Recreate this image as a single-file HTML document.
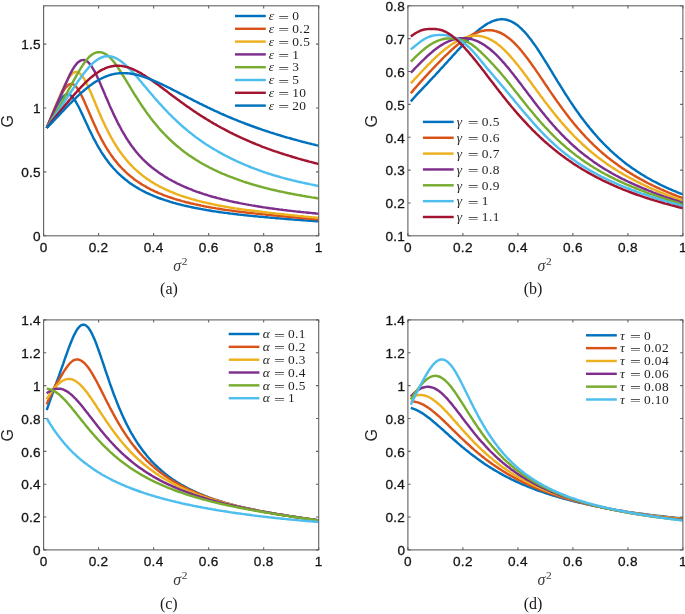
<!DOCTYPE html>
<html lang="en">
<head>
<meta charset="utf-8">
<title>G versus noise intensity</title>
<style>
html,body{margin:0;padding:0;background:#ffffff;}
body{width:685px;height:614px;overflow:hidden;}
svg{display:block;will-change:transform;}
</style>
</head>
<body>
<svg width="685" height="614" viewBox="0 0 685 614" role="img" aria-label="G versus sigma squared, four panels">
<rect x="0" y="0" width="685" height="614" fill="#ffffff"/>
<defs>
<clipPath id="clip-a"><rect x="43.6" y="5.8" width="275.1" height="230"/></clipPath>
<clipPath id="clip-b"><rect x="407.9" y="5.8" width="275" height="230"/></clipPath>
<clipPath id="clip-c"><rect x="43.6" y="319.9" width="275.1" height="230"/></clipPath>
<clipPath id="clip-d"><rect x="407.9" y="319.9" width="275" height="230"/></clipPath>
</defs>
<g class="panel" id="panel-a">
<g clip-path="url(#clip-a)" fill="none" stroke-width="2.45" stroke-linejoin="round" stroke-linecap="butt">
<path d="M46.7 127.9 L48.1 124.8 L49.5 121.7 L50.8 118.6 L52.2 115.5 L53.6 112.5 L55.0 109.6 L56.3 106.9 L57.7 104.3 L59.1 101.9 L60.4 99.8 L61.8 98.0 L63.2 96.5 L64.5 95.4 L65.9 94.7 L67.3 94.4 L68.6 94.6 L70.0 95.1 L71.4 96.1 L72.7 97.5 L74.1 99.2 L75.5 101.2 L76.8 103.5 L78.2 106.0 L79.6 108.7 L80.9 111.5 L82.3 114.4 L83.7 117.4 L85.0 120.3 L86.4 123.3 L87.8 126.3 L89.1 129.2 L90.5 132.0 L91.9 134.8 L93.2 137.6 L94.6 140.2 L96.0 142.7 L97.3 145.2 L98.7 147.6 L100.1 149.9 L101.4 152.1 L102.8 154.2 L104.2 156.3 L105.5 158.2 L106.9 160.1 L108.3 162.0 L109.6 163.7 L111.0 165.4 L112.4 167.0 L113.7 168.5 L115.1 170.0 L116.5 171.5 L117.8 172.8 L119.2 174.2 L120.6 175.4 L121.9 176.7 L123.3 177.8 L124.7 179.0 L126.0 180.1 L127.4 181.1 L128.8 182.2 L130.1 183.2 L131.5 184.1 L132.9 185.0 L134.2 185.9 L135.6 186.8 L137.0 187.6 L138.3 188.4 L139.7 189.2 L141.1 190.0 L142.4 190.7 L143.8 191.4 L145.2 192.1 L146.5 192.8 L147.9 193.4 L149.3 194.0 L150.6 194.6 L152.0 195.2 L153.4 195.8 L154.7 196.4 L156.1 196.9 L157.5 197.5 L158.8 198.0 L160.2 198.5 L161.6 199.0 L163.0 199.4 L164.3 199.9 L165.7 200.4 L167.1 200.8 L168.4 201.2 L169.8 201.7 L171.2 202.1 L172.5 202.5 L173.9 202.9 L175.3 203.2 L176.6 203.6 L178.0 204.0 L179.4 204.3 L180.7 204.7 L182.1 205.0 L183.5 205.4 L184.8 205.7 L186.2 206.0 L187.6 206.3 L188.9 206.6 L190.3 206.9 L191.7 207.2 L193.0 207.5 L194.4 207.8 L195.8 208.0 L197.1 208.3 L198.5 208.6 L199.9 208.8 L201.2 209.1 L202.6 209.3 L204.0 209.6 L205.3 209.8 L206.7 210.1 L208.1 210.3 L209.4 210.5 L210.8 210.7 L212.2 211.0 L213.5 211.2 L214.9 211.4 L216.3 211.6 L217.6 211.8 L219.0 212.0 L220.4 212.2 L221.7 212.4 L223.1 212.6 L224.5 212.8 L225.8 212.9 L227.2 213.1 L228.6 213.3 L229.9 213.5 L231.3 213.6 L232.7 213.8 L234.0 214.0 L235.4 214.1 L236.8 214.3 L238.1 214.5 L239.5 214.6 L240.9 214.8 L242.2 214.9 L243.6 215.1 L245.0 215.2 L246.3 215.4 L247.7 215.5 L249.1 215.6 L250.4 215.8 L251.8 215.9 L253.2 216.1 L254.5 216.2 L255.9 216.3 L257.3 216.4 L258.6 216.6 L260.0 216.7 L261.4 216.8 L262.7 216.9 L264.1 217.1 L265.5 217.2 L266.9 217.3 L268.2 217.4 L269.6 217.6 L271.0 217.7 L272.3 217.8 L273.7 217.9 L275.1 218.0 L276.4 218.2 L277.8 218.3 L279.2 218.4 L280.5 218.5 L281.9 218.6 L283.3 218.7 L284.6 218.8 L286.0 219.0 L287.4 219.1 L288.7 219.2 L290.1 219.3 L291.5 219.4 L292.8 219.5 L294.2 219.6 L295.6 219.7 L296.9 219.8 L298.3 219.9 L299.7 220.0 L301.0 220.1 L302.4 220.2 L303.8 220.3 L305.1 220.4 L306.5 220.5 L307.9 220.6 L309.2 220.7 L310.6 220.8 L312.0 220.9 L313.3 221.0 L314.7 221.1 L316.1 221.2 L317.4 221.3 L318.8 221.4" stroke="#0072BD"/>
<path d="M46.7 127.9 L48.1 124.8 L49.5 121.6 L50.8 118.5 L52.2 115.2 L53.6 112.0 L55.0 108.7 L56.3 105.5 L57.7 102.4 L59.1 99.4 L60.4 96.5 L61.8 93.8 L63.2 91.4 L64.5 89.2 L65.9 87.3 L67.3 85.8 L68.6 84.7 L70.0 84.1 L71.4 83.9 L72.7 84.2 L74.1 84.9 L75.5 86.1 L76.8 87.6 L78.2 89.6 L79.6 91.8 L80.9 94.3 L82.3 97.1 L83.7 100.0 L85.0 103.1 L86.4 106.2 L87.8 109.4 L89.1 112.6 L90.5 115.8 L91.9 118.9 L93.2 122.0 L94.6 125.1 L96.0 128.1 L97.3 131.0 L98.7 133.8 L100.1 136.5 L101.4 139.1 L102.8 141.6 L104.2 144.1 L105.5 146.4 L106.9 148.7 L108.3 150.8 L109.6 152.9 L111.0 154.9 L112.4 156.8 L113.7 158.7 L115.1 160.4 L116.5 162.1 L117.8 163.8 L119.2 165.3 L120.6 166.8 L121.9 168.3 L123.3 169.7 L124.7 171.0 L126.0 172.3 L127.4 173.6 L128.8 174.8 L130.1 175.9 L131.5 177.1 L132.9 178.1 L134.2 179.2 L135.6 180.2 L137.0 181.1 L138.3 182.1 L139.7 183.0 L141.1 183.9 L142.4 184.7 L143.8 185.5 L145.2 186.3 L146.5 187.1 L147.9 187.9 L149.3 188.6 L150.6 189.3 L152.0 190.0 L153.4 190.6 L154.7 191.3 L156.1 191.9 L157.5 192.5 L158.8 193.1 L160.2 193.7 L161.6 194.2 L163.0 194.8 L164.3 195.3 L165.7 195.8 L167.1 196.3 L168.4 196.8 L169.8 197.3 L171.2 197.7 L172.5 198.2 L173.9 198.6 L175.3 199.1 L176.6 199.5 L178.0 199.9 L179.4 200.3 L180.7 200.7 L182.1 201.1 L183.5 201.4 L184.8 201.8 L186.2 202.2 L187.6 202.5 L188.9 202.8 L190.3 203.2 L191.7 203.5 L193.0 203.8 L194.4 204.1 L195.8 204.4 L197.1 204.7 L198.5 205.0 L199.9 205.3 L201.2 205.6 L202.6 205.9 L204.0 206.2 L205.3 206.4 L206.7 206.7 L208.1 206.9 L209.4 207.2 L210.8 207.4 L212.2 207.7 L213.5 207.9 L214.9 208.1 L216.3 208.4 L217.6 208.6 L219.0 208.8 L220.4 209.0 L221.7 209.2 L223.1 209.5 L224.5 209.7 L225.8 209.9 L227.2 210.1 L228.6 210.3 L229.9 210.4 L231.3 210.6 L232.7 210.8 L234.0 211.0 L235.4 211.2 L236.8 211.4 L238.1 211.5 L239.5 211.7 L240.9 211.9 L242.2 212.0 L243.6 212.2 L245.0 212.4 L246.3 212.5 L247.7 212.7 L249.1 212.8 L250.4 213.0 L251.8 213.1 L253.2 213.3 L254.5 213.4 L255.9 213.6 L257.3 213.7 L258.6 213.8 L260.0 214.0 L261.4 214.1 L262.7 214.3 L264.1 214.4 L265.5 214.5 L266.9 214.7 L268.2 214.8 L269.6 214.9 L271.0 215.1 L272.3 215.2 L273.7 215.4 L275.1 215.5 L276.4 215.6 L277.8 215.8 L279.2 215.9 L280.5 216.0 L281.9 216.2 L283.3 216.3 L284.6 216.4 L286.0 216.6 L287.4 216.7 L288.7 216.8 L290.1 217.0 L291.5 217.1 L292.8 217.2 L294.2 217.3 L295.6 217.5 L296.9 217.6 L298.3 217.7 L299.7 217.9 L301.0 218.0 L302.4 218.1 L303.8 218.2 L305.1 218.3 L306.5 218.5 L307.9 218.6 L309.2 218.7 L310.6 218.8 L312.0 218.9 L313.3 219.1 L314.7 219.2 L316.1 219.3 L317.4 219.4 L318.8 219.5" stroke="#D95319"/>
<path d="M46.7 127.9 L48.1 124.4 L49.5 121.0 L50.8 117.5 L52.2 114.1 L53.6 110.6 L55.0 107.3 L56.3 104.1 L57.7 100.9 L59.1 97.7 L60.4 94.6 L61.8 91.5 L63.2 88.5 L64.5 85.6 L65.9 82.9 L67.3 80.4 L68.6 78.2 L70.0 76.2 L71.4 74.6 L72.7 73.3 L74.1 72.5 L75.5 72.0 L76.8 72.0 L78.2 72.4 L79.6 73.3 L80.9 74.6 L82.3 76.2 L83.7 78.2 L85.0 80.5 L86.4 83.0 L87.8 85.8 L89.1 88.8 L90.5 91.8 L91.9 95.0 L93.2 98.3 L94.6 101.6 L96.0 104.9 L97.3 108.1 L98.7 111.4 L100.1 114.5 L101.4 117.7 L102.8 120.7 L104.2 123.7 L105.5 126.5 L106.9 129.3 L108.3 132.0 L109.6 134.6 L111.0 137.2 L112.4 139.6 L113.7 141.9 L115.1 144.2 L116.5 146.4 L117.8 148.5 L119.2 150.5 L120.6 152.4 L121.9 154.3 L123.3 156.1 L124.7 157.8 L126.0 159.5 L127.4 161.1 L128.8 162.7 L130.1 164.1 L131.5 165.6 L132.9 167.0 L134.2 168.3 L135.6 169.6 L137.0 170.8 L138.3 172.0 L139.7 173.2 L141.1 174.3 L142.4 175.4 L143.8 176.5 L145.2 177.5 L146.5 178.5 L147.9 179.4 L149.3 180.3 L150.6 181.2 L152.0 182.1 L153.4 182.9 L154.7 183.8 L156.1 184.6 L157.5 185.3 L158.8 186.1 L160.2 186.8 L161.6 187.5 L163.0 188.2 L164.3 188.8 L165.7 189.5 L167.1 190.1 L168.4 190.7 L169.8 191.3 L171.2 191.9 L172.5 192.5 L173.9 193.0 L175.3 193.5 L176.6 194.1 L178.0 194.6 L179.4 195.1 L180.7 195.6 L182.1 196.0 L183.5 196.5 L184.8 196.9 L186.2 197.4 L187.6 197.8 L188.9 198.2 L190.3 198.6 L191.7 199.1 L193.0 199.4 L194.4 199.8 L195.8 200.2 L197.1 200.6 L198.5 200.9 L199.9 201.3 L201.2 201.6 L202.6 202.0 L204.0 202.3 L205.3 202.6 L206.7 202.9 L208.1 203.2 L209.4 203.5 L210.8 203.8 L212.2 204.1 L213.5 204.4 L214.9 204.7 L216.3 205.0 L217.6 205.3 L219.0 205.5 L220.4 205.8 L221.7 206.0 L223.1 206.3 L224.5 206.5 L225.8 206.8 L227.2 207.0 L228.6 207.2 L229.9 207.5 L231.3 207.7 L232.7 207.9 L234.0 208.1 L235.4 208.4 L236.8 208.6 L238.1 208.8 L239.5 209.0 L240.9 209.2 L242.2 209.4 L243.6 209.6 L245.0 209.8 L246.3 209.9 L247.7 210.1 L249.1 210.3 L250.4 210.5 L251.8 210.7 L253.2 210.8 L254.5 211.0 L255.9 211.2 L257.3 211.3 L258.6 211.5 L260.0 211.7 L261.4 211.8 L262.7 212.0 L264.1 212.1 L265.5 212.3 L266.9 212.5 L268.2 212.6 L269.6 212.8 L271.0 212.9 L272.3 213.1 L273.7 213.2 L275.1 213.4 L276.4 213.6 L277.8 213.7 L279.2 213.9 L280.5 214.0 L281.9 214.2 L283.3 214.3 L284.6 214.5 L286.0 214.6 L287.4 214.8 L288.7 214.9 L290.1 215.1 L291.5 215.2 L292.8 215.4 L294.2 215.5 L295.6 215.6 L296.9 215.8 L298.3 215.9 L299.7 216.1 L301.0 216.2 L302.4 216.3 L303.8 216.5 L305.1 216.6 L306.5 216.8 L307.9 216.9 L309.2 217.0 L310.6 217.1 L312.0 217.3 L313.3 217.4 L314.7 217.5 L316.1 217.7 L317.4 217.8 L318.8 217.9" stroke="#EDB120"/>
<path d="M46.7 127.9 L48.1 124.6 L49.5 121.3 L50.8 118.1 L52.2 114.8 L53.6 111.5 L55.0 108.3 L56.3 105.3 L57.7 102.2 L59.1 99.1 L60.4 96.0 L61.8 92.8 L63.2 89.6 L64.5 86.4 L65.9 83.3 L67.3 80.2 L68.6 77.2 L70.0 74.4 L71.4 71.8 L72.7 69.3 L74.1 67.1 L75.5 65.2 L76.8 63.5 L78.2 62.2 L79.6 61.2 L80.9 60.4 L82.3 60.1 L83.7 60.0 L85.0 60.3 L86.4 61.0 L87.8 61.9 L89.1 63.2 L90.5 64.9 L91.9 66.8 L93.2 69.0 L94.6 71.4 L96.0 74.1 L97.3 77.0 L98.7 80.0 L100.1 83.1 L101.4 86.3 L102.8 89.5 L104.2 92.7 L105.5 95.9 L106.9 99.1 L108.3 102.3 L109.6 105.4 L111.0 108.5 L112.4 111.5 L113.7 114.4 L115.1 117.3 L116.5 120.1 L117.8 122.8 L119.2 125.4 L120.6 128.0 L121.9 130.5 L123.3 132.9 L124.7 135.2 L126.0 137.5 L127.4 139.6 L128.8 141.7 L130.1 143.7 L131.5 145.7 L132.9 147.5 L134.2 149.3 L135.6 151.1 L137.0 152.7 L138.3 154.3 L139.7 155.9 L141.1 157.3 L142.4 158.8 L143.8 160.1 L145.2 161.5 L146.5 162.7 L147.9 164.0 L149.3 165.2 L150.6 166.3 L152.0 167.5 L153.4 168.5 L154.7 169.6 L156.1 170.6 L157.5 171.6 L158.8 172.6 L160.2 173.5 L161.6 174.4 L163.0 175.3 L164.3 176.2 L165.7 177.1 L167.1 177.9 L168.4 178.7 L169.8 179.5 L171.2 180.2 L172.5 181.0 L173.9 181.7 L175.3 182.4 L176.6 183.1 L178.0 183.8 L179.4 184.4 L180.7 185.1 L182.1 185.7 L183.5 186.3 L184.8 186.9 L186.2 187.5 L187.6 188.1 L188.9 188.7 L190.3 189.2 L191.7 189.7 L193.0 190.3 L194.4 190.8 L195.8 191.3 L197.1 191.8 L198.5 192.3 L199.9 192.7 L201.2 193.2 L202.6 193.6 L204.0 194.1 L205.3 194.5 L206.7 194.9 L208.1 195.4 L209.4 195.8 L210.8 196.2 L212.2 196.6 L213.5 197.0 L214.9 197.3 L216.3 197.7 L217.6 198.1 L219.0 198.4 L220.4 198.8 L221.7 199.1 L223.1 199.5 L224.5 199.8 L225.8 200.1 L227.2 200.4 L228.6 200.8 L229.9 201.1 L231.3 201.4 L232.7 201.7 L234.0 202.0 L235.4 202.3 L236.8 202.5 L238.1 202.8 L239.5 203.1 L240.9 203.4 L242.2 203.6 L243.6 203.9 L245.0 204.1 L246.3 204.4 L247.7 204.6 L249.1 204.9 L250.4 205.1 L251.8 205.4 L253.2 205.6 L254.5 205.8 L255.9 206.1 L257.3 206.3 L258.6 206.5 L260.0 206.7 L261.4 206.9 L262.7 207.2 L264.1 207.4 L265.5 207.6 L266.9 207.8 L268.2 208.0 L269.6 208.2 L271.0 208.4 L272.3 208.5 L273.7 208.7 L275.1 208.9 L276.4 209.1 L277.8 209.3 L279.2 209.5 L280.5 209.6 L281.9 209.8 L283.3 210.0 L284.6 210.1 L286.0 210.3 L287.4 210.5 L288.7 210.6 L290.1 210.8 L291.5 210.9 L292.8 211.1 L294.2 211.3 L295.6 211.4 L296.9 211.6 L298.3 211.7 L299.7 211.8 L301.0 212.0 L302.4 212.1 L303.8 212.3 L305.1 212.4 L306.5 212.5 L307.9 212.7 L309.2 212.8 L310.6 212.9 L312.0 213.1 L313.3 213.2 L314.7 213.3 L316.1 213.5 L317.4 213.6 L318.8 213.7" stroke="#7E2F8E"/>
<path d="M46.7 127.9 L48.1 125.6 L49.5 123.3 L50.8 121.0 L52.2 118.7 L53.6 116.4 L55.0 114.0 L56.3 111.7 L57.7 109.4 L59.1 107.1 L60.4 104.7 L61.8 102.3 L63.2 99.8 L64.5 97.4 L65.9 94.9 L67.3 92.4 L68.6 89.8 L70.0 87.3 L71.4 84.8 L72.7 82.3 L74.1 79.8 L75.5 77.3 L76.8 74.9 L78.2 72.6 L79.6 70.2 L80.9 68.0 L82.3 65.9 L83.7 63.8 L85.0 61.9 L86.4 60.1 L87.8 58.5 L89.1 57.0 L90.5 55.8 L91.9 54.7 L93.2 53.8 L94.6 53.1 L96.0 52.6 L97.3 52.3 L98.7 52.2 L100.1 52.2 L101.4 52.4 L102.8 52.8 L104.2 53.4 L105.5 54.1 L106.9 54.9 L108.3 56.0 L109.6 57.2 L111.0 58.6 L112.4 60.1 L113.7 61.8 L115.1 63.6 L116.5 65.5 L117.8 67.4 L119.2 69.5 L120.6 71.6 L121.9 73.8 L123.3 76.0 L124.7 78.2 L126.0 80.4 L127.4 82.7 L128.8 84.9 L130.1 87.2 L131.5 89.4 L132.9 91.6 L134.2 93.8 L135.6 96.0 L137.0 98.2 L138.3 100.3 L139.7 102.4 L141.1 104.5 L142.4 106.5 L143.8 108.5 L145.2 110.5 L146.5 112.4 L147.9 114.3 L149.3 116.1 L150.6 117.9 L152.0 119.7 L153.4 121.5 L154.7 123.1 L156.1 124.8 L157.5 126.4 L158.8 128.0 L160.2 129.6 L161.6 131.1 L163.0 132.6 L164.3 134.0 L165.7 135.4 L167.1 136.8 L168.4 138.2 L169.8 139.5 L171.2 140.8 L172.5 142.0 L173.9 143.3 L175.3 144.5 L176.6 145.7 L178.0 146.8 L179.4 147.9 L180.7 149.0 L182.1 150.1 L183.5 151.2 L184.8 152.2 L186.2 153.2 L187.6 154.2 L188.9 155.2 L190.3 156.1 L191.7 157.0 L193.0 157.9 L194.4 158.8 L195.8 159.7 L197.1 160.5 L198.5 161.4 L199.9 162.2 L201.2 163.0 L202.6 163.8 L204.0 164.5 L205.3 165.3 L206.7 166.0 L208.1 166.7 L209.4 167.5 L210.8 168.2 L212.2 168.8 L213.5 169.5 L214.9 170.2 L216.3 170.8 L217.6 171.4 L219.0 172.1 L220.4 172.7 L221.7 173.3 L223.1 173.9 L224.5 174.4 L225.8 175.0 L227.2 175.6 L228.6 176.1 L229.9 176.7 L231.3 177.2 L232.7 177.7 L234.0 178.2 L235.4 178.7 L236.8 179.2 L238.1 179.7 L239.5 180.2 L240.9 180.7 L242.2 181.1 L243.6 181.6 L245.0 182.0 L246.3 182.5 L247.7 182.9 L249.1 183.3 L250.4 183.8 L251.8 184.2 L253.2 184.6 L254.5 185.0 L255.9 185.4 L257.3 185.8 L258.6 186.2 L260.0 186.5 L261.4 186.9 L262.7 187.3 L264.1 187.6 L265.5 188.0 L266.9 188.3 L268.2 188.7 L269.6 189.0 L271.0 189.4 L272.3 189.7 L273.7 190.0 L275.1 190.3 L276.4 190.6 L277.8 191.0 L279.2 191.3 L280.5 191.6 L281.9 191.8 L283.3 192.1 L284.6 192.4 L286.0 192.7 L287.4 193.0 L288.7 193.2 L290.1 193.5 L291.5 193.8 L292.8 194.0 L294.2 194.3 L295.6 194.6 L296.9 194.8 L298.3 195.1 L299.7 195.3 L301.0 195.5 L302.4 195.8 L303.8 196.0 L305.1 196.2 L306.5 196.5 L307.9 196.7 L309.2 196.9 L310.6 197.1 L312.0 197.4 L313.3 197.6 L314.7 197.8 L316.1 198.0 L317.4 198.2 L318.8 198.4" stroke="#77AC30"/>
<path d="M46.7 127.9 L48.1 125.9 L49.5 123.9 L50.8 121.9 L52.2 119.9 L53.6 117.9 L55.0 115.9 L56.3 113.9 L57.7 111.9 L59.1 109.9 L60.4 107.9 L61.8 105.8 L63.2 103.7 L64.5 101.7 L65.9 99.6 L67.3 97.5 L68.6 95.4 L70.0 93.3 L71.4 91.3 L72.7 89.2 L74.1 87.1 L75.5 85.1 L76.8 83.1 L78.2 81.1 L79.6 79.2 L80.9 77.3 L82.3 75.4 L83.7 73.6 L85.0 71.9 L86.4 70.2 L87.8 68.6 L89.1 67.0 L90.5 65.6 L91.9 64.2 L93.2 62.9 L94.6 61.7 L96.0 60.7 L97.3 59.7 L98.7 58.8 L100.1 58.1 L101.4 57.5 L102.8 57.0 L104.2 56.6 L105.5 56.3 L106.9 56.2 L108.3 56.2 L109.6 56.3 L111.0 56.5 L112.4 56.8 L113.7 57.2 L115.1 57.8 L116.5 58.4 L117.8 59.2 L119.2 60.0 L120.6 61.0 L121.9 62.0 L123.3 63.1 L124.7 64.2 L126.0 65.5 L127.4 66.8 L128.8 68.1 L130.1 69.5 L131.5 70.9 L132.9 72.4 L134.2 73.9 L135.6 75.5 L137.0 77.0 L138.3 78.6 L139.7 80.2 L141.1 81.8 L142.4 83.4 L143.8 85.1 L145.2 86.7 L146.5 88.3 L147.9 90.0 L149.3 91.6 L150.6 93.2 L152.0 94.8 L153.4 96.4 L154.7 98.0 L156.1 99.6 L157.5 101.1 L158.8 102.7 L160.2 104.2 L161.6 105.7 L163.0 107.2 L164.3 108.7 L165.7 110.1 L167.1 111.5 L168.4 113.0 L169.8 114.4 L171.2 115.7 L172.5 117.1 L173.9 118.4 L175.3 119.7 L176.6 121.0 L178.0 122.3 L179.4 123.5 L180.7 124.8 L182.1 126.0 L183.5 127.2 L184.8 128.3 L186.2 129.5 L187.6 130.6 L188.9 131.7 L190.3 132.8 L191.7 133.9 L193.0 135.0 L194.4 136.0 L195.8 137.1 L197.1 138.1 L198.5 139.1 L199.9 140.0 L201.2 141.0 L202.6 141.9 L204.0 142.9 L205.3 143.8 L206.7 144.7 L208.1 145.5 L209.4 146.4 L210.8 147.3 L212.2 148.1 L213.5 148.9 L214.9 149.7 L216.3 150.5 L217.6 151.3 L219.0 152.1 L220.4 152.9 L221.7 153.6 L223.1 154.4 L224.5 155.1 L225.8 155.8 L227.2 156.5 L228.6 157.2 L229.9 157.9 L231.3 158.6 L232.7 159.2 L234.0 159.9 L235.4 160.5 L236.8 161.2 L238.1 161.8 L239.5 162.4 L240.9 163.0 L242.2 163.6 L243.6 164.2 L245.0 164.8 L246.3 165.3 L247.7 165.9 L249.1 166.5 L250.4 167.0 L251.8 167.6 L253.2 168.1 L254.5 168.6 L255.9 169.1 L257.3 169.7 L258.6 170.2 L260.0 170.7 L261.4 171.1 L262.7 171.6 L264.1 172.1 L265.5 172.6 L266.9 173.0 L268.2 173.5 L269.6 173.9 L271.0 174.3 L272.3 174.8 L273.7 175.2 L275.1 175.6 L276.4 176.0 L277.8 176.4 L279.2 176.8 L280.5 177.2 L281.9 177.6 L283.3 177.9 L284.6 178.3 L286.0 178.7 L287.4 179.0 L288.7 179.4 L290.1 179.7 L291.5 180.0 L292.8 180.4 L294.2 180.7 L295.6 181.0 L296.9 181.4 L298.3 181.7 L299.7 182.0 L301.0 182.3 L302.4 182.6 L303.8 182.9 L305.1 183.2 L306.5 183.5 L307.9 183.8 L309.2 184.1 L310.6 184.4 L312.0 184.6 L313.3 184.9 L314.7 185.2 L316.1 185.5 L317.4 185.7 L318.8 186.0" stroke="#4DBEEE"/>
<path d="M46.7 127.9 L48.1 126.1 L49.5 124.4 L50.8 122.6 L52.2 120.9 L53.6 119.2 L55.0 117.5 L56.3 115.8 L57.7 114.2 L59.1 112.6 L60.4 110.9 L61.8 109.3 L63.2 107.6 L64.5 106.0 L65.9 104.4 L67.3 102.7 L68.6 101.1 L70.0 99.5 L71.4 97.9 L72.7 96.3 L74.1 94.7 L75.5 93.2 L76.8 91.7 L78.2 90.1 L79.6 88.7 L80.9 87.2 L82.3 85.8 L83.7 84.4 L85.0 83.0 L86.4 81.7 L87.8 80.4 L89.1 79.1 L90.5 77.9 L91.9 76.8 L93.2 75.7 L94.6 74.6 L96.0 73.6 L97.3 72.7 L98.7 71.8 L100.1 70.9 L101.4 70.1 L102.8 69.4 L104.2 68.8 L105.5 68.2 L106.9 67.7 L108.3 67.2 L109.6 66.8 L111.0 66.5 L112.4 66.2 L113.7 66.0 L115.1 65.8 L116.5 65.8 L117.8 65.7 L119.2 65.8 L120.6 65.9 L121.9 66.0 L123.3 66.3 L124.7 66.5 L126.0 66.9 L127.4 67.2 L128.8 67.7 L130.1 68.1 L131.5 68.7 L132.9 69.2 L134.2 69.8 L135.6 70.5 L137.0 71.2 L138.3 71.9 L139.7 72.6 L141.1 73.4 L142.4 74.2 L143.8 75.0 L145.2 75.9 L146.5 76.8 L147.9 77.7 L149.3 78.6 L150.6 79.5 L152.0 80.5 L153.4 81.5 L154.7 82.5 L156.1 83.4 L157.5 84.4 L158.8 85.4 L160.2 86.5 L161.6 87.5 L163.0 88.5 L164.3 89.5 L165.7 90.6 L167.1 91.6 L168.4 92.6 L169.8 93.7 L171.2 94.7 L172.5 95.7 L173.9 96.7 L175.3 97.7 L176.6 98.8 L178.0 99.8 L179.4 100.8 L180.7 101.8 L182.1 102.8 L183.5 103.7 L184.8 104.7 L186.2 105.7 L187.6 106.7 L188.9 107.6 L190.3 108.6 L191.7 109.5 L193.0 110.4 L194.4 111.4 L195.8 112.3 L197.1 113.2 L198.5 114.1 L199.9 115.0 L201.2 115.9 L202.6 116.7 L204.0 117.6 L205.3 118.4 L206.7 119.3 L208.1 120.1 L209.4 120.9 L210.8 121.8 L212.2 122.6 L213.5 123.4 L214.9 124.2 L216.3 124.9 L217.6 125.7 L219.0 126.5 L220.4 127.2 L221.7 128.0 L223.1 128.7 L224.5 129.4 L225.8 130.2 L227.2 130.9 L228.6 131.6 L229.9 132.3 L231.3 133.0 L232.7 133.6 L234.0 134.3 L235.4 135.0 L236.8 135.6 L238.1 136.3 L239.5 136.9 L240.9 137.6 L242.2 138.2 L243.6 138.8 L245.0 139.4 L246.3 140.0 L247.7 140.6 L249.1 141.2 L250.4 141.8 L251.8 142.4 L253.2 143.0 L254.5 143.5 L255.9 144.1 L257.3 144.6 L258.6 145.2 L260.0 145.7 L261.4 146.3 L262.7 146.8 L264.1 147.3 L265.5 147.8 L266.9 148.3 L268.2 148.8 L269.6 149.3 L271.0 149.8 L272.3 150.3 L273.7 150.8 L275.1 151.3 L276.4 151.7 L277.8 152.2 L279.2 152.6 L280.5 153.1 L281.9 153.5 L283.3 154.0 L284.6 154.4 L286.0 154.9 L287.4 155.3 L288.7 155.7 L290.1 156.1 L291.5 156.5 L292.8 157.0 L294.2 157.4 L295.6 157.8 L296.9 158.2 L298.3 158.6 L299.7 158.9 L301.0 159.3 L302.4 159.7 L303.8 160.1 L305.1 160.5 L306.5 160.8 L307.9 161.2 L309.2 161.6 L310.6 161.9 L312.0 162.3 L313.3 162.6 L314.7 163.0 L316.1 163.3 L317.4 163.7 L318.8 164.0" stroke="#A2142F"/>
<path d="M46.7 127.9 L48.1 126.5 L49.5 125.2 L50.8 123.8 L52.2 122.3 L53.6 120.9 L55.0 119.5 L56.3 118.0 L57.7 116.6 L59.1 115.1 L60.4 113.7 L61.8 112.2 L63.2 110.8 L64.5 109.4 L65.9 107.9 L67.3 106.5 L68.6 105.1 L70.0 103.7 L71.4 102.3 L72.7 100.9 L74.1 99.6 L75.5 98.3 L76.8 96.9 L78.2 95.7 L79.6 94.4 L80.9 93.1 L82.3 91.9 L83.7 90.7 L85.0 89.6 L86.4 88.5 L87.8 87.4 L89.1 86.3 L90.5 85.3 L91.9 84.3 L93.2 83.3 L94.6 82.4 L96.0 81.5 L97.3 80.7 L98.7 79.9 L100.1 79.2 L101.4 78.5 L102.8 77.8 L104.2 77.2 L105.5 76.6 L106.9 76.1 L108.3 75.6 L109.6 75.2 L111.0 74.8 L112.4 74.4 L113.7 74.1 L115.1 73.8 L116.5 73.6 L117.8 73.4 L119.2 73.3 L120.6 73.2 L121.9 73.1 L123.3 73.1 L124.7 73.1 L126.0 73.2 L127.4 73.3 L128.8 73.4 L130.1 73.5 L131.5 73.7 L132.9 74.0 L134.2 74.2 L135.6 74.5 L137.0 74.8 L138.3 75.2 L139.7 75.6 L141.1 76.0 L142.4 76.4 L143.8 76.8 L145.2 77.3 L146.5 77.8 L147.9 78.3 L149.3 78.8 L150.6 79.4 L152.0 79.9 L153.4 80.5 L154.7 81.1 L156.1 81.7 L157.5 82.3 L158.8 82.9 L160.2 83.6 L161.6 84.2 L163.0 84.8 L164.3 85.5 L165.7 86.2 L167.1 86.9 L168.4 87.5 L169.8 88.2 L171.2 88.9 L172.5 89.6 L173.9 90.3 L175.3 91.0 L176.6 91.7 L178.0 92.4 L179.4 93.1 L180.7 93.8 L182.1 94.5 L183.5 95.2 L184.8 95.9 L186.2 96.6 L187.6 97.3 L188.9 98.0 L190.3 98.7 L191.7 99.4 L193.0 100.1 L194.4 100.8 L195.8 101.5 L197.1 102.2 L198.5 102.9 L199.9 103.6 L201.2 104.2 L202.6 104.9 L204.0 105.6 L205.3 106.2 L206.7 106.9 L208.1 107.6 L209.4 108.2 L210.8 108.9 L212.2 109.5 L213.5 110.1 L214.9 110.8 L216.3 111.4 L217.6 112.0 L219.0 112.6 L220.4 113.3 L221.7 113.9 L223.1 114.5 L224.5 115.1 L225.8 115.7 L227.2 116.3 L228.6 116.8 L229.9 117.4 L231.3 118.0 L232.7 118.6 L234.0 119.1 L235.4 119.7 L236.8 120.2 L238.1 120.8 L239.5 121.3 L240.9 121.9 L242.2 122.4 L243.6 122.9 L245.0 123.5 L246.3 124.0 L247.7 124.5 L249.1 125.0 L250.4 125.5 L251.8 126.0 L253.2 126.5 L254.5 127.0 L255.9 127.5 L257.3 128.0 L258.6 128.5 L260.0 128.9 L261.4 129.4 L262.7 129.9 L264.1 130.3 L265.5 130.8 L266.9 131.2 L268.2 131.7 L269.6 132.1 L271.0 132.6 L272.3 133.0 L273.7 133.4 L275.1 133.9 L276.4 134.3 L277.8 134.7 L279.2 135.1 L280.5 135.5 L281.9 136.0 L283.3 136.4 L284.6 136.8 L286.0 137.2 L287.4 137.6 L288.7 137.9 L290.1 138.3 L291.5 138.7 L292.8 139.1 L294.2 139.5 L295.6 139.8 L296.9 140.2 L298.3 140.6 L299.7 140.9 L301.0 141.3 L302.4 141.7 L303.8 142.0 L305.1 142.4 L306.5 142.7 L307.9 143.1 L309.2 143.4 L310.6 143.7 L312.0 144.1 L313.3 144.4 L314.7 144.7 L316.1 145.1 L317.4 145.4 L318.8 145.7" stroke="#0072BD"/>
</g>
<g stroke="#626262" stroke-width="1.1" fill="none">
<rect x="43.6" y="5.8" width="275.1" height="230"/>
<path d="M43.6 235.8 v-2.7 M43.6 5.8 v2.7 M98.62 235.8 v-2.7 M98.62 5.8 v2.7 M153.64 235.8 v-2.7 M153.64 5.8 v2.7 M208.66 235.8 v-2.7 M208.66 5.8 v2.7 M263.68 235.8 v-2.7 M263.68 5.8 v2.7 M318.7 235.8 v-2.7 M318.7 5.8 v2.7 M43.6 235.8 h2.7 M318.7 235.8 h-2.7 M43.6 171.91 h2.7 M318.7 171.91 h-2.7 M43.6 108.02 h2.7 M318.7 108.02 h-2.7 M43.6 44.13 h2.7 M318.7 44.13 h-2.7"/>
</g>
<g class="ticks" font-family="'Liberation Sans', Arial, Helvetica, sans-serif" font-size="13.6" fill="#141414" stroke="#141414" stroke-width="0.3" letter-spacing="0.25">
<text x="43.6" y="251.8" text-anchor="middle">0</text>
<text x="98.62" y="251.8" text-anchor="middle">0.2</text>
<text x="153.64" y="251.8" text-anchor="middle">0.4</text>
<text x="208.66" y="251.8" text-anchor="middle">0.6</text>
<text x="263.68" y="251.8" text-anchor="middle">0.8</text>
<text x="318.7" y="251.8" text-anchor="middle">1</text>
<text x="40.9" y="241.1" text-anchor="end">0</text>
<text x="40.9" y="177.21" text-anchor="end">0.5</text>
<text x="40.9" y="113.32" text-anchor="end">1</text>
<text x="40.9" y="49.43" text-anchor="end">1.5</text>
</g>
<text class="ylabel" transform="translate(13.2 121.1) rotate(-90)" text-anchor="middle" font-family="'Liberation Sans', Arial, Helvetica, sans-serif" font-size="16.2" fill="#262626">G</text>
<text class="xlabel" x="173.25" y="270.8" font-family="'Liberation Serif', 'Times New Roman', serif" font-size="15.8" fill="#3a3a3a"><tspan font-style="italic">σ</tspan><tspan dy="-6.2" dx="0.6" font-size="11.4">2</tspan></text>
<text class="caption" x="169" y="294.4" text-anchor="middle" font-family="'Liberation Serif', 'Times New Roman', serif" font-size="16" fill="#1a1a1a">(a)</text>
<g class="legend" font-family="'Liberation Serif', 'Times New Roman', serif" font-size="13.4" fill="#1f1f1f">
<line x1="235" y1="16" x2="265.8" y2="16" stroke="#0072BD" stroke-width="2.45"/>
<text y="20.2"><tspan x="268.8" font-style="italic">ε</tspan><tspan x="278.3" dy="1.3" textLength="10.9" lengthAdjust="spacingAndGlyphs">=</tspan><tspan x="292.2" dy="-1.3" letter-spacing="0.45">0</tspan></text>
<line x1="235" y1="28.8" x2="265.8" y2="28.8" stroke="#D95319" stroke-width="2.45"/>
<text y="33"><tspan x="268.8" font-style="italic">ε</tspan><tspan x="278.3" dy="1.3" textLength="10.9" lengthAdjust="spacingAndGlyphs">=</tspan><tspan x="292.2" dy="-1.3" letter-spacing="0.45">0.2</tspan></text>
<line x1="235" y1="41.6" x2="265.8" y2="41.6" stroke="#EDB120" stroke-width="2.45"/>
<text y="45.8"><tspan x="268.8" font-style="italic">ε</tspan><tspan x="278.3" dy="1.3" textLength="10.9" lengthAdjust="spacingAndGlyphs">=</tspan><tspan x="292.2" dy="-1.3" letter-spacing="0.45">0.5</tspan></text>
<line x1="235" y1="54.4" x2="265.8" y2="54.4" stroke="#7E2F8E" stroke-width="2.45"/>
<text y="58.6"><tspan x="268.8" font-style="italic">ε</tspan><tspan x="278.3" dy="1.3" textLength="10.9" lengthAdjust="spacingAndGlyphs">=</tspan><tspan x="292.2" dy="-1.3" letter-spacing="0.45">1</tspan></text>
<line x1="235" y1="67.2" x2="265.8" y2="67.2" stroke="#77AC30" stroke-width="2.45"/>
<text y="71.4"><tspan x="268.8" font-style="italic">ε</tspan><tspan x="278.3" dy="1.3" textLength="10.9" lengthAdjust="spacingAndGlyphs">=</tspan><tspan x="292.2" dy="-1.3" letter-spacing="0.45">3</tspan></text>
<line x1="235" y1="80" x2="265.8" y2="80" stroke="#4DBEEE" stroke-width="2.45"/>
<text y="84.2"><tspan x="268.8" font-style="italic">ε</tspan><tspan x="278.3" dy="1.3" textLength="10.9" lengthAdjust="spacingAndGlyphs">=</tspan><tspan x="292.2" dy="-1.3" letter-spacing="0.45">5</tspan></text>
<line x1="235" y1="92.8" x2="265.8" y2="92.8" stroke="#A2142F" stroke-width="2.45"/>
<text y="97"><tspan x="268.8" font-style="italic">ε</tspan><tspan x="278.3" dy="1.3" textLength="10.9" lengthAdjust="spacingAndGlyphs">=</tspan><tspan x="292.2" dy="-1.3" letter-spacing="0.45">10</tspan></text>
<line x1="235" y1="105.6" x2="265.8" y2="105.6" stroke="#0072BD" stroke-width="2.45"/>
<text y="109.8"><tspan x="268.8" font-style="italic">ε</tspan><tspan x="278.3" dy="1.3" textLength="10.9" lengthAdjust="spacingAndGlyphs">=</tspan><tspan x="292.2" dy="-1.3" letter-spacing="0.45">20</tspan></text>
</g>
</g>
<g class="panel" id="panel-b">
<g clip-path="url(#clip-b)" fill="none" stroke-width="2.45" stroke-linejoin="round" stroke-linecap="butt">
<path d="M410.8 101.5 L412.2 99.9 L413.6 98.3 L414.9 96.8 L416.3 95.2 L417.7 93.7 L419.1 92.2 L420.4 90.8 L421.8 89.4 L423.2 87.9 L424.5 86.5 L425.9 85.1 L427.3 83.6 L428.6 82.2 L430.0 80.7 L431.4 79.2 L432.7 77.7 L434.1 76.3 L435.5 74.8 L436.8 73.3 L438.2 71.8 L439.6 70.3 L440.9 68.8 L442.3 67.3 L443.7 65.8 L445.0 64.3 L446.4 62.8 L447.8 61.3 L449.1 59.8 L450.5 58.3 L451.9 56.8 L453.2 55.3 L454.6 53.8 L456.0 52.3 L457.3 50.8 L458.7 49.4 L460.1 47.9 L461.4 46.4 L462.8 45.0 L464.2 43.6 L465.5 42.2 L466.9 40.8 L468.3 39.4 L469.6 38.1 L471.0 36.8 L472.4 35.5 L473.7 34.2 L475.1 33.0 L476.5 31.8 L477.8 30.6 L479.2 29.5 L480.6 28.4 L481.9 27.4 L483.3 26.4 L484.7 25.4 L486.0 24.6 L487.4 23.7 L488.8 23.0 L490.1 22.3 L491.5 21.6 L492.9 21.1 L494.2 20.6 L495.6 20.2 L497.0 19.8 L498.3 19.6 L499.7 19.4 L501.1 19.3 L502.4 19.3 L503.8 19.4 L505.2 19.5 L506.5 19.8 L507.9 20.2 L509.3 20.6 L510.6 21.2 L512.0 21.8 L513.4 22.6 L514.7 23.4 L516.1 24.3 L517.5 25.3 L518.8 26.4 L520.2 27.6 L521.6 28.9 L522.9 30.3 L524.3 31.7 L525.7 33.2 L527.1 34.8 L528.4 36.5 L529.8 38.2 L531.2 40.0 L532.5 41.9 L533.9 43.8 L535.3 45.7 L536.6 47.7 L538.0 49.8 L539.4 51.8 L540.7 54.0 L542.1 56.1 L543.5 58.3 L544.8 60.5 L546.2 62.7 L547.6 64.9 L548.9 67.1 L550.3 69.4 L551.7 71.6 L553.0 73.9 L554.4 76.1 L555.8 78.4 L557.1 80.6 L558.5 82.8 L559.9 85.0 L561.2 87.2 L562.6 89.4 L564.0 91.6 L565.3 93.8 L566.7 95.9 L568.1 98.0 L569.4 100.1 L570.8 102.1 L572.2 104.2 L573.5 106.2 L574.9 108.2 L576.3 110.2 L577.6 112.1 L579.0 114.0 L580.4 115.9 L581.7 117.7 L583.1 119.6 L584.5 121.4 L585.8 123.1 L587.2 124.9 L588.6 126.6 L589.9 128.3 L591.3 129.9 L592.7 131.6 L594.0 133.2 L595.4 134.7 L596.8 136.3 L598.1 137.8 L599.5 139.3 L600.9 140.8 L602.2 142.2 L603.6 143.6 L605.0 145.0 L606.3 146.4 L607.7 147.7 L609.1 149.0 L610.4 150.3 L611.8 151.6 L613.2 152.9 L614.5 154.1 L615.9 155.3 L617.3 156.5 L618.6 157.6 L620.0 158.8 L621.4 159.9 L622.7 161.0 L624.1 162.1 L625.5 163.2 L626.8 164.2 L628.2 165.2 L629.6 166.2 L631.0 167.2 L632.3 168.2 L633.7 169.1 L635.1 170.1 L636.4 171.0 L637.8 171.9 L639.2 172.8 L640.5 173.6 L641.9 174.5 L643.3 175.3 L644.6 176.1 L646.0 177.0 L647.4 177.8 L648.7 178.5 L650.1 179.3 L651.5 180.1 L652.8 180.8 L654.2 181.5 L655.6 182.2 L656.9 182.9 L658.3 183.6 L659.7 184.3 L661.0 185.0 L662.4 185.7 L663.8 186.3 L665.1 186.9 L666.5 187.6 L667.9 188.2 L669.2 188.8 L670.6 189.4 L672.0 190.0 L673.3 190.6 L674.7 191.1 L676.1 191.7 L677.4 192.3 L678.8 192.8 L680.2 193.4 L681.5 193.9 L682.9 194.4" stroke="#0072BD"/>
<path d="M410.8 93.2 L412.2 91.6 L413.6 89.9 L414.9 88.3 L416.3 86.8 L417.7 85.2 L419.1 83.6 L420.4 82.1 L421.8 80.6 L423.2 79.1 L424.5 77.7 L425.9 76.2 L427.3 74.7 L428.6 73.2 L430.0 71.7 L431.4 70.3 L432.7 68.8 L434.1 67.4 L435.5 65.9 L436.8 64.5 L438.2 63.1 L439.6 61.7 L440.9 60.3 L442.3 58.9 L443.7 57.5 L445.0 56.2 L446.4 54.9 L447.8 53.6 L449.1 52.3 L450.5 51.0 L451.9 49.7 L453.2 48.5 L454.6 47.3 L456.0 46.2 L457.3 45.0 L458.7 43.9 L460.1 42.8 L461.4 41.8 L462.8 40.7 L464.2 39.8 L465.5 38.8 L466.9 37.9 L468.3 37.0 L469.6 36.2 L471.0 35.4 L472.4 34.7 L473.7 34.0 L475.1 33.4 L476.5 32.8 L477.8 32.3 L479.2 31.8 L480.6 31.4 L481.9 31.0 L483.3 30.7 L484.7 30.5 L486.0 30.3 L487.4 30.2 L488.8 30.2 L490.1 30.2 L491.5 30.3 L492.9 30.5 L494.2 30.8 L495.6 31.1 L497.0 31.5 L498.3 32.0 L499.7 32.5 L501.1 33.1 L502.4 33.8 L503.8 34.6 L505.2 35.5 L506.5 36.4 L507.9 37.4 L509.3 38.4 L510.6 39.6 L512.0 40.8 L513.4 42.1 L514.7 43.4 L516.1 44.8 L517.5 46.3 L518.8 47.8 L520.2 49.4 L521.6 51.0 L522.9 52.7 L524.3 54.4 L525.7 56.2 L527.1 58.0 L528.4 59.8 L529.8 61.7 L531.2 63.6 L532.5 65.5 L533.9 67.4 L535.3 69.4 L536.6 71.4 L538.0 73.4 L539.4 75.4 L540.7 77.4 L542.1 79.4 L543.5 81.5 L544.8 83.5 L546.2 85.5 L547.6 87.5 L548.9 89.6 L550.3 91.6 L551.7 93.6 L553.0 95.5 L554.4 97.5 L555.8 99.5 L557.1 101.4 L558.5 103.3 L559.9 105.2 L561.2 107.1 L562.6 109.0 L564.0 110.8 L565.3 112.6 L566.7 114.4 L568.1 116.2 L569.4 118.0 L570.8 119.7 L572.2 121.4 L573.5 123.1 L574.9 124.7 L576.3 126.4 L577.6 128.0 L579.0 129.5 L580.4 131.1 L581.7 132.6 L583.1 134.1 L584.5 135.6 L585.8 137.1 L587.2 138.5 L588.6 139.9 L589.9 141.3 L591.3 142.7 L592.7 144.0 L594.0 145.3 L595.4 146.6 L596.8 147.9 L598.1 149.2 L599.5 150.4 L600.9 151.6 L602.2 152.8 L603.6 154.0 L605.0 155.1 L606.3 156.2 L607.7 157.4 L609.1 158.4 L610.4 159.5 L611.8 160.6 L613.2 161.6 L614.5 162.6 L615.9 163.6 L617.3 164.6 L618.6 165.6 L620.0 166.5 L621.4 167.5 L622.7 168.4 L624.1 169.3 L625.5 170.2 L626.8 171.1 L628.2 171.9 L629.6 172.8 L631.0 173.6 L632.3 174.4 L633.7 175.3 L635.1 176.1 L636.4 176.9 L637.8 177.6 L639.2 178.4 L640.5 179.2 L641.9 179.9 L643.3 180.6 L644.6 181.4 L646.0 182.1 L647.4 182.8 L648.7 183.5 L650.1 184.2 L651.5 184.8 L652.8 185.5 L654.2 186.2 L655.6 186.8 L656.9 187.5 L658.3 188.1 L659.7 188.7 L661.0 189.3 L662.4 189.9 L663.8 190.5 L665.1 191.1 L666.5 191.7 L667.9 192.3 L669.2 192.8 L670.6 193.4 L672.0 194.0 L673.3 194.5 L674.7 195.0 L676.1 195.6 L677.4 196.1 L678.8 196.6 L680.2 197.1 L681.5 197.6 L682.9 198.1" stroke="#D95319"/>
<path d="M410.8 83.2 L412.2 81.8 L413.6 80.3 L414.9 78.8 L416.3 77.4 L417.7 75.9 L419.1 74.5 L420.4 73.0 L421.8 71.5 L423.2 70.0 L424.5 68.6 L425.9 67.2 L427.3 65.7 L428.6 64.3 L430.0 63.0 L431.4 61.6 L432.7 60.2 L434.1 58.9 L435.5 57.6 L436.8 56.3 L438.2 55.1 L439.6 53.9 L440.9 52.7 L442.3 51.5 L443.7 50.4 L445.0 49.3 L446.4 48.2 L447.8 47.2 L449.1 46.2 L450.5 45.2 L451.9 44.3 L453.2 43.4 L454.6 42.6 L456.0 41.8 L457.3 41.0 L458.7 40.3 L460.1 39.6 L461.4 39.0 L462.8 38.4 L464.2 37.9 L465.5 37.5 L466.9 37.0 L468.3 36.7 L469.6 36.4 L471.0 36.1 L472.4 36.0 L473.7 35.8 L475.1 35.8 L476.5 35.8 L477.8 35.8 L479.2 36.0 L480.6 36.2 L481.9 36.4 L483.3 36.7 L484.7 37.1 L486.0 37.6 L487.4 38.1 L488.8 38.7 L490.1 39.4 L491.5 40.1 L492.9 40.9 L494.2 41.7 L495.6 42.6 L497.0 43.6 L498.3 44.7 L499.7 45.8 L501.1 46.9 L502.4 48.2 L503.8 49.4 L505.2 50.8 L506.5 52.2 L507.9 53.6 L509.3 55.1 L510.6 56.6 L512.0 58.2 L513.4 59.8 L514.7 61.4 L516.1 63.1 L517.5 64.8 L518.8 66.5 L520.2 68.3 L521.6 70.0 L522.9 71.8 L524.3 73.7 L525.7 75.5 L527.1 77.3 L528.4 79.2 L529.8 81.1 L531.2 82.9 L532.5 84.8 L533.9 86.7 L535.3 88.5 L536.6 90.4 L538.0 92.3 L539.4 94.1 L540.7 96.0 L542.1 97.8 L543.5 99.6 L544.8 101.5 L546.2 103.3 L547.6 105.0 L548.9 106.8 L550.3 108.6 L551.7 110.3 L553.0 112.0 L554.4 113.7 L555.8 115.4 L557.1 117.1 L558.5 118.7 L559.9 120.4 L561.2 122.0 L562.6 123.6 L564.0 125.1 L565.3 126.7 L566.7 128.2 L568.1 129.7 L569.4 131.2 L570.8 132.6 L572.2 134.0 L573.5 135.5 L574.9 136.9 L576.3 138.2 L577.6 139.6 L579.0 140.9 L580.4 142.2 L581.7 143.5 L583.1 144.8 L584.5 146.0 L585.8 147.2 L587.2 148.5 L588.6 149.6 L589.9 150.8 L591.3 152.0 L592.7 153.1 L594.0 154.2 L595.4 155.3 L596.8 156.4 L598.1 157.5 L599.5 158.5 L600.9 159.5 L602.2 160.5 L603.6 161.5 L605.0 162.5 L606.3 163.5 L607.7 164.4 L609.1 165.4 L610.4 166.3 L611.8 167.2 L613.2 168.1 L614.5 168.9 L615.9 169.8 L617.3 170.7 L618.6 171.5 L620.0 172.3 L621.4 173.1 L622.7 173.9 L624.1 174.7 L625.5 175.5 L626.8 176.3 L628.2 177.0 L629.6 177.8 L631.0 178.5 L632.3 179.2 L633.7 179.9 L635.1 180.6 L636.4 181.3 L637.8 182.0 L639.2 182.7 L640.5 183.4 L641.9 184.1 L643.3 184.7 L644.6 185.4 L646.0 186.0 L647.4 186.7 L648.7 187.3 L650.1 187.9 L651.5 188.5 L652.8 189.1 L654.2 189.7 L655.6 190.3 L656.9 190.9 L658.3 191.5 L659.7 192.0 L661.0 192.6 L662.4 193.1 L663.8 193.7 L665.1 194.2 L666.5 194.8 L667.9 195.3 L669.2 195.8 L670.6 196.3 L672.0 196.8 L673.3 197.3 L674.7 197.8 L676.1 198.3 L677.4 198.8 L678.8 199.3 L680.2 199.8 L681.5 200.2 L682.9 200.7" stroke="#EDB120"/>
<path d="M410.8 72.7 L412.2 71.3 L413.6 69.8 L414.9 68.4 L416.3 67.0 L417.7 65.6 L419.1 64.2 L420.4 62.8 L421.8 61.4 L423.2 60.1 L424.5 58.8 L425.9 57.5 L427.3 56.2 L428.6 55.0 L430.0 53.8 L431.4 52.6 L432.7 51.5 L434.1 50.3 L435.5 49.3 L436.8 48.3 L438.2 47.3 L439.6 46.3 L440.9 45.4 L442.3 44.6 L443.7 43.8 L445.0 43.0 L446.4 42.3 L447.8 41.7 L449.1 41.1 L450.5 40.5 L451.9 40.0 L453.2 39.6 L454.6 39.2 L456.0 38.9 L457.3 38.6 L458.7 38.4 L460.1 38.2 L461.4 38.1 L462.8 38.1 L464.2 38.1 L465.5 38.2 L466.9 38.3 L468.3 38.5 L469.6 38.7 L471.0 39.0 L472.4 39.4 L473.7 39.8 L475.1 40.3 L476.5 40.8 L477.8 41.4 L479.2 42.1 L480.6 42.8 L481.9 43.6 L483.3 44.4 L484.7 45.3 L486.0 46.2 L487.4 47.2 L488.8 48.3 L490.1 49.3 L491.5 50.5 L492.9 51.7 L494.2 52.9 L495.6 54.2 L497.0 55.5 L498.3 56.9 L499.7 58.3 L501.1 59.8 L502.4 61.3 L503.8 62.8 L505.2 64.4 L506.5 66.0 L507.9 67.6 L509.3 69.3 L510.6 71.0 L512.0 72.7 L513.4 74.4 L514.7 76.2 L516.1 77.9 L517.5 79.7 L518.8 81.5 L520.2 83.3 L521.6 85.1 L522.9 86.9 L524.3 88.7 L525.7 90.6 L527.1 92.4 L528.4 94.2 L529.8 96.0 L531.2 97.8 L532.5 99.6 L533.9 101.4 L535.3 103.2 L536.6 105.0 L538.0 106.8 L539.4 108.5 L540.7 110.2 L542.1 112.0 L543.5 113.6 L544.8 115.3 L546.2 117.0 L547.6 118.6 L548.9 120.3 L550.3 121.9 L551.7 123.4 L553.0 125.0 L554.4 126.5 L555.8 128.1 L557.1 129.6 L558.5 131.0 L559.9 132.5 L561.2 133.9 L562.6 135.3 L564.0 136.7 L565.3 138.1 L566.7 139.4 L568.1 140.7 L569.4 142.0 L570.8 143.3 L572.2 144.6 L573.5 145.8 L574.9 147.0 L576.3 148.2 L577.6 149.4 L579.0 150.6 L580.4 151.7 L581.7 152.8 L583.1 153.9 L584.5 155.0 L585.8 156.1 L587.2 157.1 L588.6 158.1 L589.9 159.1 L591.3 160.1 L592.7 161.1 L594.0 162.1 L595.4 163.0 L596.8 163.9 L598.1 164.9 L599.5 165.8 L600.9 166.6 L602.2 167.5 L603.6 168.4 L605.0 169.2 L606.3 170.0 L607.7 170.8 L609.1 171.6 L610.4 172.4 L611.8 173.2 L613.2 174.0 L614.5 174.7 L615.9 175.5 L617.3 176.2 L618.6 176.9 L620.0 177.6 L621.4 178.3 L622.7 179.0 L624.1 179.7 L625.5 180.4 L626.8 181.0 L628.2 181.7 L629.6 182.3 L631.0 182.9 L632.3 183.6 L633.7 184.2 L635.1 184.8 L636.4 185.4 L637.8 186.0 L639.2 186.6 L640.5 187.2 L641.9 187.8 L643.3 188.4 L644.6 189.0 L646.0 189.5 L647.4 190.1 L648.7 190.6 L650.1 191.2 L651.5 191.7 L652.8 192.3 L654.2 192.8 L655.6 193.3 L656.9 193.8 L658.3 194.4 L659.7 194.9 L661.0 195.4 L662.4 195.9 L663.8 196.4 L665.1 196.8 L666.5 197.3 L667.9 197.8 L669.2 198.3 L670.6 198.7 L672.0 199.2 L673.3 199.7 L674.7 200.1 L676.1 200.5 L677.4 201.0 L678.8 201.4 L680.2 201.9 L681.5 202.3 L682.9 202.7" stroke="#7E2F8E"/>
<path d="M410.8 61.7 L412.2 60.3 L413.6 58.9 L414.9 57.5 L416.3 56.2 L417.7 54.9 L419.1 53.6 L420.4 52.3 L421.8 51.1 L423.2 50.0 L424.5 48.8 L425.9 47.8 L427.3 46.7 L428.6 45.8 L430.0 44.9 L431.4 44.0 L432.7 43.2 L434.1 42.4 L435.5 41.8 L436.8 41.1 L438.2 40.6 L439.6 40.1 L440.9 39.6 L442.3 39.3 L443.7 39.0 L445.0 38.7 L446.4 38.5 L447.8 38.4 L449.1 38.4 L450.5 38.4 L451.9 38.5 L453.2 38.6 L454.6 38.7 L456.0 38.9 L457.3 39.0 L458.7 39.3 L460.1 39.5 L461.4 39.9 L462.8 40.2 L464.2 40.7 L465.5 41.2 L466.9 41.8 L468.3 42.4 L469.6 43.2 L471.0 44.0 L472.4 45.0 L473.7 46.0 L475.1 47.0 L476.5 48.1 L477.8 49.3 L479.2 50.6 L480.6 51.8 L481.9 53.2 L483.3 54.5 L484.7 55.9 L486.0 57.2 L487.4 58.6 L488.8 60.0 L490.1 61.4 L491.5 62.9 L492.9 64.3 L494.2 65.8 L495.6 67.3 L497.0 68.8 L498.3 70.4 L499.7 71.9 L501.1 73.5 L502.4 75.2 L503.8 76.8 L505.2 78.5 L506.5 80.1 L507.9 81.8 L509.3 83.5 L510.6 85.2 L512.0 87.0 L513.4 88.7 L514.7 90.4 L516.1 92.2 L517.5 93.9 L518.8 95.6 L520.2 97.4 L521.6 99.1 L522.9 100.8 L524.3 102.5 L525.7 104.3 L527.1 106.0 L528.4 107.7 L529.8 109.3 L531.2 111.0 L532.5 112.6 L533.9 114.3 L535.3 115.9 L536.6 117.5 L538.0 119.1 L539.4 120.7 L540.7 122.2 L542.1 123.8 L543.5 125.3 L544.8 126.8 L546.2 128.2 L547.6 129.7 L548.9 131.1 L550.3 132.5 L551.7 133.9 L553.0 135.3 L554.4 136.6 L555.8 138.0 L557.1 139.3 L558.5 140.6 L559.9 141.8 L561.2 143.1 L562.6 144.3 L564.0 145.5 L565.3 146.7 L566.7 147.9 L568.1 149.0 L569.4 150.2 L570.8 151.3 L572.2 152.4 L573.5 153.4 L574.9 154.5 L576.3 155.6 L577.6 156.6 L579.0 157.6 L580.4 158.6 L581.7 159.6 L583.1 160.5 L584.5 161.5 L585.8 162.4 L587.2 163.3 L588.6 164.2 L589.9 165.1 L591.3 166.0 L592.7 166.8 L594.0 167.7 L595.4 168.5 L596.8 169.3 L598.1 170.1 L599.5 170.9 L600.9 171.7 L602.2 172.5 L603.6 173.2 L605.0 174.0 L606.3 174.7 L607.7 175.4 L609.1 176.2 L610.4 176.9 L611.8 177.5 L613.2 178.2 L614.5 178.9 L615.9 179.6 L617.3 180.2 L618.6 180.9 L620.0 181.5 L621.4 182.1 L622.7 182.7 L624.1 183.4 L625.5 184.0 L626.8 184.6 L628.2 185.1 L629.6 185.7 L631.0 186.3 L632.3 186.9 L633.7 187.4 L635.1 188.0 L636.4 188.5 L637.8 189.1 L639.2 189.6 L640.5 190.2 L641.9 190.7 L643.3 191.2 L644.6 191.7 L646.0 192.3 L647.4 192.8 L648.7 193.3 L650.1 193.8 L651.5 194.3 L652.8 194.7 L654.2 195.2 L655.6 195.7 L656.9 196.2 L658.3 196.7 L659.7 197.1 L661.0 197.6 L662.4 198.0 L663.8 198.5 L665.1 198.9 L666.5 199.4 L667.9 199.8 L669.2 200.2 L670.6 200.7 L672.0 201.1 L673.3 201.5 L674.7 201.9 L676.1 202.3 L677.4 202.7 L678.8 203.1 L680.2 203.5 L681.5 203.9 L682.9 204.3" stroke="#77AC30"/>
<path d="M410.8 49.4 L412.2 48.3 L413.6 47.2 L414.9 46.1 L416.3 45.0 L417.7 43.9 L419.1 42.8 L420.4 41.8 L421.8 40.8 L423.2 39.9 L424.5 39.0 L425.9 38.2 L427.3 37.6 L428.6 37.0 L430.0 36.5 L431.4 36.0 L432.7 35.7 L434.1 35.4 L435.5 35.2 L436.8 35.1 L438.2 35.0 L439.6 34.9 L440.9 34.9 L442.3 34.9 L443.7 35.0 L445.0 35.1 L446.4 35.3 L447.8 35.5 L449.1 35.8 L450.5 36.1 L451.9 36.5 L453.2 37.0 L454.6 37.6 L456.0 38.3 L457.3 39.0 L458.7 39.8 L460.1 40.6 L461.4 41.4 L462.8 42.3 L464.2 43.3 L465.5 44.4 L466.9 45.5 L468.3 46.7 L469.6 47.9 L471.0 49.3 L472.4 50.7 L473.7 52.2 L475.1 53.8 L476.5 55.3 L477.8 57.0 L479.2 58.6 L480.6 60.2 L481.9 61.9 L483.3 63.6 L484.7 65.3 L486.0 66.9 L487.4 68.6 L488.8 70.2 L490.1 71.8 L491.5 73.4 L492.9 75.0 L494.2 76.6 L495.6 78.2 L497.0 79.8 L498.3 81.4 L499.7 83.0 L501.1 84.7 L502.4 86.3 L503.8 87.9 L505.2 89.5 L506.5 91.2 L507.9 92.8 L509.3 94.5 L510.6 96.1 L512.0 97.7 L513.4 99.4 L514.7 101.0 L516.1 102.7 L517.5 104.3 L518.8 106.0 L520.2 107.6 L521.6 109.2 L522.9 110.9 L524.3 112.5 L525.7 114.1 L527.1 115.7 L528.4 117.3 L529.8 118.9 L531.2 120.5 L532.5 122.0 L533.9 123.6 L535.3 125.1 L536.6 126.6 L538.0 128.1 L539.4 129.6 L540.7 131.0 L542.1 132.5 L543.5 133.9 L544.8 135.3 L546.2 136.6 L547.6 138.0 L548.9 139.3 L550.3 140.7 L551.7 141.9 L553.0 143.2 L554.4 144.5 L555.8 145.7 L557.1 146.9 L558.5 148.1 L559.9 149.2 L561.2 150.4 L562.6 151.5 L564.0 152.6 L565.3 153.7 L566.7 154.8 L568.1 155.8 L569.4 156.9 L570.8 157.9 L572.2 158.9 L573.5 159.8 L574.9 160.8 L576.3 161.8 L577.6 162.7 L579.0 163.6 L580.4 164.5 L581.7 165.4 L583.1 166.2 L584.5 167.1 L585.8 167.9 L587.2 168.8 L588.6 169.6 L589.9 170.4 L591.3 171.2 L592.7 171.9 L594.0 172.7 L595.4 173.4 L596.8 174.2 L598.1 174.9 L599.5 175.6 L600.9 176.3 L602.2 177.0 L603.6 177.7 L605.0 178.4 L606.3 179.1 L607.7 179.7 L609.1 180.4 L610.4 181.0 L611.8 181.6 L613.2 182.2 L614.5 182.8 L615.9 183.4 L617.3 184.0 L618.6 184.6 L620.0 185.2 L621.4 185.8 L622.7 186.3 L624.1 186.9 L625.5 187.4 L626.8 188.0 L628.2 188.5 L629.6 189.0 L631.0 189.6 L632.3 190.1 L633.7 190.6 L635.1 191.1 L636.4 191.6 L637.8 192.1 L639.2 192.6 L640.5 193.1 L641.9 193.6 L643.3 194.0 L644.6 194.5 L646.0 195.0 L647.4 195.4 L648.7 195.9 L650.1 196.4 L651.5 196.8 L652.8 197.3 L654.2 197.7 L655.6 198.1 L656.9 198.6 L658.3 199.0 L659.7 199.4 L661.0 199.8 L662.4 200.2 L663.8 200.7 L665.1 201.1 L666.5 201.5 L667.9 201.9 L669.2 202.3 L670.6 202.7 L672.0 203.0 L673.3 203.4 L674.7 203.8 L676.1 204.2 L677.4 204.6 L678.8 204.9 L680.2 205.3 L681.5 205.6 L682.9 206.0" stroke="#4DBEEE"/>
<path d="M410.8 36.4 L412.2 35.4 L413.6 34.5 L414.9 33.6 L416.3 32.8 L417.7 32.0 L419.1 31.3 L420.4 30.7 L421.8 30.2 L423.2 29.8 L424.5 29.5 L425.9 29.3 L427.3 29.1 L428.6 29.0 L430.0 28.9 L431.4 28.9 L432.7 28.9 L434.1 28.9 L435.5 29.0 L436.8 29.2 L438.2 29.4 L439.6 29.7 L440.9 30.0 L442.3 30.4 L443.7 31.0 L445.0 31.5 L446.4 32.2 L447.8 33.0 L449.1 33.9 L450.5 34.8 L451.9 35.8 L453.2 36.9 L454.6 38.0 L456.0 39.2 L457.3 40.4 L458.7 41.7 L460.1 43.0 L461.4 44.4 L462.8 45.8 L464.2 47.3 L465.5 48.8 L466.9 50.3 L468.3 51.8 L469.6 53.4 L471.0 55.1 L472.4 56.7 L473.7 58.4 L475.1 60.1 L476.5 61.8 L477.8 63.5 L479.2 65.2 L480.6 67.0 L481.9 68.8 L483.3 70.5 L484.7 72.3 L486.0 74.1 L487.4 75.9 L488.8 77.7 L490.1 79.5 L491.5 81.2 L492.9 83.0 L494.2 84.8 L495.6 86.6 L497.0 88.4 L498.3 90.1 L499.7 91.9 L501.1 93.6 L502.4 95.4 L503.8 97.1 L505.2 98.8 L506.5 100.5 L507.9 102.2 L509.3 103.9 L510.6 105.5 L512.0 107.2 L513.4 108.8 L514.7 110.4 L516.1 112.0 L517.5 113.6 L518.8 115.1 L520.2 116.7 L521.6 118.2 L522.9 119.7 L524.3 121.2 L525.7 122.7 L527.1 124.2 L528.4 125.6 L529.8 127.0 L531.2 128.4 L532.5 129.8 L533.9 131.2 L535.3 132.5 L536.6 133.9 L538.0 135.2 L539.4 136.5 L540.7 137.8 L542.1 139.0 L543.5 140.3 L544.8 141.5 L546.2 142.7 L547.6 143.9 L548.9 145.1 L550.3 146.2 L551.7 147.4 L553.0 148.5 L554.4 149.6 L555.8 150.7 L557.1 151.8 L558.5 152.9 L559.9 153.9 L561.2 155.0 L562.6 156.0 L564.0 157.0 L565.3 158.0 L566.7 159.0 L568.1 159.9 L569.4 160.9 L570.8 161.8 L572.2 162.8 L573.5 163.7 L574.9 164.6 L576.3 165.5 L577.6 166.3 L579.0 167.2 L580.4 168.0 L581.7 168.9 L583.1 169.7 L584.5 170.5 L585.8 171.3 L587.2 172.1 L588.6 172.9 L589.9 173.7 L591.3 174.4 L592.7 175.2 L594.0 175.9 L595.4 176.6 L596.8 177.3 L598.1 178.1 L599.5 178.7 L600.9 179.4 L602.2 180.1 L603.6 180.8 L605.0 181.4 L606.3 182.1 L607.7 182.7 L609.1 183.4 L610.4 184.0 L611.8 184.6 L613.2 185.2 L614.5 185.8 L615.9 186.4 L617.3 187.0 L618.6 187.6 L620.0 188.2 L621.4 188.7 L622.7 189.3 L624.1 189.8 L625.5 190.4 L626.8 190.9 L628.2 191.4 L629.6 192.0 L631.0 192.5 L632.3 193.0 L633.7 193.5 L635.1 194.0 L636.4 194.5 L637.8 195.0 L639.2 195.4 L640.5 195.9 L641.9 196.4 L643.3 196.9 L644.6 197.3 L646.0 197.8 L647.4 198.2 L648.7 198.6 L650.1 199.1 L651.5 199.5 L652.8 199.9 L654.2 200.4 L655.6 200.8 L656.9 201.2 L658.3 201.6 L659.7 202.0 L661.0 202.4 L662.4 202.8 L663.8 203.2 L665.1 203.6 L666.5 203.9 L667.9 204.3 L669.2 204.7 L670.6 205.1 L672.0 205.4 L673.3 205.8 L674.7 206.1 L676.1 206.5 L677.4 206.8 L678.8 207.2 L680.2 207.5 L681.5 207.9 L682.9 208.2" stroke="#A2142F"/>
</g>
<g stroke="#626262" stroke-width="1.1" fill="none">
<rect x="407.9" y="5.8" width="275" height="230"/>
<path d="M407.9 235.8 v-2.7 M407.9 5.8 v2.7 M462.9 235.8 v-2.7 M462.9 5.8 v2.7 M517.9 235.8 v-2.7 M517.9 5.8 v2.7 M572.9 235.8 v-2.7 M572.9 5.8 v2.7 M627.9 235.8 v-2.7 M627.9 5.8 v2.7 M682.9 235.8 v-2.7 M682.9 5.8 v2.7 M407.9 235.8 h2.7 M682.9 235.8 h-2.7 M407.9 202.94 h2.7 M682.9 202.94 h-2.7 M407.9 170.09 h2.7 M682.9 170.09 h-2.7 M407.9 137.23 h2.7 M682.9 137.23 h-2.7 M407.9 104.37 h2.7 M682.9 104.37 h-2.7 M407.9 71.51 h2.7 M682.9 71.51 h-2.7 M407.9 38.66 h2.7 M682.9 38.66 h-2.7 M407.9 5.8 h2.7 M682.9 5.8 h-2.7"/>
</g>
<g class="ticks" font-family="'Liberation Sans', Arial, Helvetica, sans-serif" font-size="13.6" fill="#141414" stroke="#141414" stroke-width="0.3" letter-spacing="0.25">
<text x="407.9" y="251.8" text-anchor="middle">0</text>
<text x="462.9" y="251.8" text-anchor="middle">0.2</text>
<text x="517.9" y="251.8" text-anchor="middle">0.4</text>
<text x="572.9" y="251.8" text-anchor="middle">0.6</text>
<text x="627.9" y="251.8" text-anchor="middle">0.8</text>
<text x="682.9" y="251.8" text-anchor="middle">1</text>
<text x="405.2" y="241.1" text-anchor="end">0.1</text>
<text x="405.2" y="208.24" text-anchor="end">0.2</text>
<text x="405.2" y="175.39" text-anchor="end">0.3</text>
<text x="405.2" y="142.53" text-anchor="end">0.4</text>
<text x="405.2" y="109.67" text-anchor="end">0.5</text>
<text x="405.2" y="76.81" text-anchor="end">0.6</text>
<text x="405.2" y="43.96" text-anchor="end">0.7</text>
<text x="405.2" y="11.1" text-anchor="end">0.8</text>
</g>
<text class="ylabel" transform="translate(377.4 121.1) rotate(-90)" text-anchor="middle" font-family="'Liberation Sans', Arial, Helvetica, sans-serif" font-size="16.2" fill="#262626">G</text>
<text class="xlabel" x="537.5" y="270.8" font-family="'Liberation Serif', 'Times New Roman', serif" font-size="15.8" fill="#3a3a3a"><tspan font-style="italic">σ</tspan><tspan dy="-6.2" dx="0.6" font-size="11.4">2</tspan></text>
<text class="caption" x="533" y="294.4" text-anchor="middle" font-family="'Liberation Serif', 'Times New Roman', serif" font-size="16" fill="#1a1a1a">(b)</text>
<g class="legend" font-family="'Liberation Serif', 'Times New Roman', serif" font-size="13.4" fill="#1f1f1f">
<line x1="422.9" y1="121.9" x2="453.7" y2="121.9" stroke="#0072BD" stroke-width="2.45"/>
<text y="126.1"><tspan x="456.7" font-style="italic">γ</tspan><tspan x="467.7" dy="1.3" textLength="10.9" lengthAdjust="spacingAndGlyphs">=</tspan><tspan x="481.8" dy="-1.3" letter-spacing="0.45">0.5</tspan></text>
<line x1="422.9" y1="137.75" x2="453.7" y2="137.75" stroke="#D95319" stroke-width="2.45"/>
<text y="141.95"><tspan x="456.7" font-style="italic">γ</tspan><tspan x="467.7" dy="1.3" textLength="10.9" lengthAdjust="spacingAndGlyphs">=</tspan><tspan x="481.8" dy="-1.3" letter-spacing="0.45">0.6</tspan></text>
<line x1="422.9" y1="153.6" x2="453.7" y2="153.6" stroke="#EDB120" stroke-width="2.45"/>
<text y="157.8"><tspan x="456.7" font-style="italic">γ</tspan><tspan x="467.7" dy="1.3" textLength="10.9" lengthAdjust="spacingAndGlyphs">=</tspan><tspan x="481.8" dy="-1.3" letter-spacing="0.45">0.7</tspan></text>
<line x1="422.9" y1="169.45" x2="453.7" y2="169.45" stroke="#7E2F8E" stroke-width="2.45"/>
<text y="173.65"><tspan x="456.7" font-style="italic">γ</tspan><tspan x="467.7" dy="1.3" textLength="10.9" lengthAdjust="spacingAndGlyphs">=</tspan><tspan x="481.8" dy="-1.3" letter-spacing="0.45">0.8</tspan></text>
<line x1="422.9" y1="185.3" x2="453.7" y2="185.3" stroke="#77AC30" stroke-width="2.45"/>
<text y="189.5"><tspan x="456.7" font-style="italic">γ</tspan><tspan x="467.7" dy="1.3" textLength="10.9" lengthAdjust="spacingAndGlyphs">=</tspan><tspan x="481.8" dy="-1.3" letter-spacing="0.45">0.9</tspan></text>
<line x1="422.9" y1="201.15" x2="453.7" y2="201.15" stroke="#4DBEEE" stroke-width="2.45"/>
<text y="205.35"><tspan x="456.7" font-style="italic">γ</tspan><tspan x="467.7" dy="1.3" textLength="10.9" lengthAdjust="spacingAndGlyphs">=</tspan><tspan x="481.8" dy="-1.3" letter-spacing="0.45">1</tspan></text>
<line x1="422.9" y1="217" x2="453.7" y2="217" stroke="#A2142F" stroke-width="2.45"/>
<text y="221.2"><tspan x="456.7" font-style="italic">γ</tspan><tspan x="467.7" dy="1.3" textLength="10.9" lengthAdjust="spacingAndGlyphs">=</tspan><tspan x="481.8" dy="-1.3" letter-spacing="0.45">1.1</tspan></text>
</g>
</g>
<g class="panel" id="panel-c">
<g clip-path="url(#clip-c)" fill="none" stroke-width="2.45" stroke-linejoin="round" stroke-linecap="butt">
<path d="M46.7 410.0 L48.1 406.1 L49.5 402.2 L50.8 398.4 L52.2 394.5 L53.6 390.6 L55.0 386.8 L56.3 383.0 L57.7 379.3 L59.1 375.5 L60.4 371.6 L61.8 367.7 L63.2 363.8 L64.5 359.9 L65.9 356.0 L67.3 352.1 L68.6 348.4 L70.0 344.8 L71.4 341.3 L72.7 338.1 L74.1 335.1 L75.5 332.4 L76.8 330.0 L78.2 328.1 L79.6 326.5 L80.9 325.4 L82.3 324.8 L83.7 324.6 L85.0 325.0 L86.4 325.8 L87.8 327.1 L89.1 328.8 L90.5 331.0 L91.9 333.6 L93.2 336.4 L94.6 339.6 L96.0 343.0 L97.3 346.7 L98.7 350.5 L100.1 354.4 L101.4 358.4 L102.8 362.4 L104.2 366.5 L105.5 370.6 L106.9 374.7 L108.3 378.7 L109.6 382.6 L111.0 386.5 L112.4 390.3 L113.7 394.0 L115.1 397.6 L116.5 401.1 L117.8 404.6 L119.2 407.9 L120.6 411.1 L121.9 414.2 L123.3 417.2 L124.7 420.1 L126.0 422.9 L127.4 425.7 L128.8 428.3 L130.1 430.8 L131.5 433.3 L132.9 435.6 L134.2 437.9 L135.6 440.1 L137.0 442.3 L138.3 444.3 L139.7 446.3 L141.1 448.2 L142.4 450.1 L143.8 451.9 L145.2 453.6 L146.5 455.3 L147.9 457.0 L149.3 458.5 L150.6 460.1 L152.0 461.6 L153.4 463.0 L154.7 464.4 L156.1 465.7 L157.5 467.0 L158.8 468.3 L160.2 469.5 L161.6 470.7 L163.0 471.9 L164.3 473.0 L165.7 474.1 L167.1 475.2 L168.4 476.2 L169.8 477.2 L171.2 478.2 L172.5 479.2 L173.9 480.1 L175.3 481.0 L176.6 481.9 L178.0 482.7 L179.4 483.6 L180.7 484.4 L182.1 485.2 L183.5 485.9 L184.8 486.7 L186.2 487.4 L187.6 488.2 L188.9 488.9 L190.3 489.5 L191.7 490.2 L193.0 490.9 L194.4 491.5 L195.8 492.1 L197.1 492.7 L198.5 493.3 L199.9 493.9 L201.2 494.5 L202.6 495.0 L204.0 495.6 L205.3 496.1 L206.7 496.6 L208.1 497.2 L209.4 497.7 L210.8 498.2 L212.2 498.6 L213.5 499.1 L214.9 499.6 L216.3 500.0 L217.6 500.5 L219.0 500.9 L220.4 501.3 L221.7 501.7 L223.1 502.2 L224.5 502.6 L225.8 503.0 L227.2 503.3 L228.6 503.7 L229.9 504.1 L231.3 504.5 L232.7 504.8 L234.0 505.2 L235.4 505.5 L236.8 505.9 L238.1 506.2 L239.5 506.5 L240.9 506.9 L242.2 507.2 L243.6 507.5 L245.0 507.8 L246.3 508.1 L247.7 508.4 L249.1 508.7 L250.4 509.0 L251.8 509.3 L253.2 509.5 L254.5 509.8 L255.9 510.1 L257.3 510.4 L258.6 510.6 L260.0 510.9 L261.4 511.1 L262.7 511.4 L264.1 511.7 L265.5 511.9 L266.9 512.2 L268.2 512.4 L269.6 512.7 L271.0 512.9 L272.3 513.1 L273.7 513.4 L275.1 513.6 L276.4 513.9 L277.8 514.1 L279.2 514.3 L280.5 514.6 L281.9 514.8 L283.3 515.0 L284.6 515.3 L286.0 515.5 L287.4 515.7 L288.7 515.9 L290.1 516.2 L291.5 516.4 L292.8 516.6 L294.2 516.8 L295.6 517.0 L296.9 517.3 L298.3 517.5 L299.7 517.7 L301.0 517.9 L302.4 518.1 L303.8 518.3 L305.1 518.5 L306.5 518.7 L307.9 518.9 L309.2 519.1 L310.6 519.3 L312.0 519.5 L313.3 519.7 L314.7 519.8 L316.1 520.0 L317.4 520.2 L318.8 520.4" stroke="#0072BD"/>
<path d="M46.7 404.4 L48.1 401.0 L49.5 397.6 L50.8 394.4 L52.2 391.4 L53.6 388.6 L55.0 386.2 L56.3 383.9 L57.7 381.7 L59.1 379.6 L60.4 377.3 L61.8 375.0 L63.2 372.7 L64.5 370.5 L65.9 368.5 L67.3 366.5 L68.6 364.8 L70.0 363.2 L71.4 361.9 L72.7 360.9 L74.1 360.0 L75.5 359.6 L76.8 359.4 L78.2 359.5 L79.6 359.9 L80.9 360.5 L82.3 361.4 L83.7 362.4 L85.0 363.7 L86.4 365.3 L87.8 367.0 L89.1 368.8 L90.5 370.9 L91.9 373.1 L93.2 375.4 L94.6 377.8 L96.0 380.3 L97.3 382.8 L98.7 385.5 L100.1 388.1 L101.4 390.8 L102.8 393.6 L104.2 396.3 L105.5 399.0 L106.9 401.7 L108.3 404.3 L109.6 407.0 L111.0 409.6 L112.4 412.2 L113.7 414.7 L115.1 417.2 L116.5 419.6 L117.8 422.0 L119.2 424.3 L120.6 426.6 L121.9 428.8 L123.3 431.0 L124.7 433.1 L126.0 435.1 L127.4 437.2 L128.8 439.1 L130.1 441.0 L131.5 442.9 L132.9 444.7 L134.2 446.4 L135.6 448.1 L137.0 449.8 L138.3 451.4 L139.7 453.0 L141.1 454.5 L142.4 456.0 L143.8 457.5 L145.2 458.9 L146.5 460.3 L147.9 461.6 L149.3 462.9 L150.6 464.2 L152.0 465.4 L153.4 466.6 L154.7 467.8 L156.1 469.0 L157.5 470.1 L158.8 471.2 L160.2 472.2 L161.6 473.3 L163.0 474.3 L164.3 475.2 L165.7 476.2 L167.1 477.1 L168.4 478.1 L169.8 479.0 L171.2 479.8 L172.5 480.7 L173.9 481.5 L175.3 482.3 L176.6 483.1 L178.0 483.9 L179.4 484.7 L180.7 485.4 L182.1 486.1 L183.5 486.8 L184.8 487.5 L186.2 488.2 L187.6 488.9 L188.9 489.5 L190.3 490.2 L191.7 490.8 L193.0 491.4 L194.4 492.0 L195.8 492.6 L197.1 493.2 L198.5 493.7 L199.9 494.3 L201.2 494.8 L202.6 495.4 L204.0 495.9 L205.3 496.4 L206.7 496.9 L208.1 497.4 L209.4 497.9 L210.8 498.4 L212.2 498.8 L213.5 499.3 L214.9 499.7 L216.3 500.2 L217.6 500.6 L219.0 501.0 L220.4 501.5 L221.7 501.9 L223.1 502.3 L224.5 502.7 L225.8 503.1 L227.2 503.5 L228.6 503.8 L229.9 504.2 L231.3 504.6 L232.7 504.9 L234.0 505.3 L235.4 505.6 L236.8 506.0 L238.1 506.3 L239.5 506.6 L240.9 507.0 L242.2 507.3 L243.6 507.6 L245.0 507.9 L246.3 508.2 L247.7 508.5 L249.1 508.8 L250.4 509.1 L251.8 509.4 L253.2 509.7 L254.5 510.0 L255.9 510.3 L257.3 510.5 L258.6 510.8 L260.0 511.1 L261.4 511.3 L262.7 511.6 L264.1 511.9 L265.5 512.1 L266.9 512.4 L268.2 512.6 L269.6 512.9 L271.0 513.1 L272.3 513.4 L273.7 513.6 L275.1 513.8 L276.4 514.1 L277.8 514.3 L279.2 514.5 L280.5 514.8 L281.9 515.0 L283.3 515.2 L284.6 515.5 L286.0 515.7 L287.4 515.9 L288.7 516.1 L290.1 516.3 L291.5 516.5 L292.8 516.8 L294.2 517.0 L295.6 517.2 L296.9 517.4 L298.3 517.6 L299.7 517.8 L301.0 518.0 L302.4 518.2 L303.8 518.4 L305.1 518.6 L306.5 518.8 L307.9 519.0 L309.2 519.1 L310.6 519.3 L312.0 519.5 L313.3 519.7 L314.7 519.9 L316.1 520.1 L317.4 520.2 L318.8 520.4" stroke="#D95319"/>
<path d="M46.7 399.1 L48.1 397.0 L49.5 394.9 L50.8 393.0 L52.2 391.1 L53.6 389.3 L55.0 387.6 L56.3 386.1 L57.7 384.7 L59.1 383.4 L60.4 382.3 L61.8 381.3 L63.2 380.5 L64.5 379.9 L65.9 379.4 L67.3 379.1 L68.6 378.9 L70.0 379.0 L71.4 379.2 L72.7 379.6 L74.1 380.2 L75.5 381.0 L76.8 381.9 L78.2 382.9 L79.6 384.1 L80.9 385.4 L82.3 386.9 L83.7 388.4 L85.0 390.1 L86.4 391.8 L87.8 393.6 L89.1 395.5 L90.5 397.4 L91.9 399.4 L93.2 401.4 L94.6 403.5 L96.0 405.5 L97.3 407.6 L98.7 409.7 L100.1 411.8 L101.4 413.8 L102.8 415.9 L104.2 417.9 L105.5 420.0 L106.9 422.0 L108.3 424.0 L109.6 425.9 L111.0 427.9 L112.4 429.8 L113.7 431.6 L115.1 433.5 L116.5 435.3 L117.8 437.0 L119.2 438.8 L120.6 440.5 L121.9 442.1 L123.3 443.7 L124.7 445.3 L126.0 446.9 L127.4 448.4 L128.8 449.9 L130.1 451.3 L131.5 452.8 L132.9 454.2 L134.2 455.5 L135.6 456.8 L137.0 458.1 L138.3 459.4 L139.7 460.6 L141.1 461.9 L142.4 463.0 L143.8 464.2 L145.2 465.3 L146.5 466.4 L147.9 467.5 L149.3 468.6 L150.6 469.6 L152.0 470.6 L153.4 471.6 L154.7 472.5 L156.1 473.5 L157.5 474.4 L158.8 475.3 L160.2 476.2 L161.6 477.1 L163.0 477.9 L164.3 478.7 L165.7 479.5 L167.1 480.3 L168.4 481.1 L169.8 481.9 L171.2 482.6 L172.5 483.3 L173.9 484.1 L175.3 484.8 L176.6 485.4 L178.0 486.1 L179.4 486.8 L180.7 487.4 L182.1 488.1 L183.5 488.7 L184.8 489.3 L186.2 489.9 L187.6 490.5 L188.9 491.1 L190.3 491.6 L191.7 492.2 L193.0 492.7 L194.4 493.3 L195.8 493.8 L197.1 494.3 L198.5 494.8 L199.9 495.3 L201.2 495.8 L202.6 496.3 L204.0 496.8 L205.3 497.2 L206.7 497.7 L208.1 498.1 L209.4 498.6 L210.8 499.0 L212.2 499.4 L213.5 499.9 L214.9 500.3 L216.3 500.7 L217.6 501.1 L219.0 501.5 L220.4 501.9 L221.7 502.3 L223.1 502.6 L224.5 503.0 L225.8 503.4 L227.2 503.7 L228.6 504.1 L229.9 504.4 L231.3 504.8 L232.7 505.1 L234.0 505.5 L235.4 505.8 L236.8 506.1 L238.1 506.4 L239.5 506.8 L240.9 507.1 L242.2 507.4 L243.6 507.7 L245.0 508.0 L246.3 508.3 L247.7 508.6 L249.1 508.9 L250.4 509.2 L251.8 509.4 L253.2 509.7 L254.5 510.0 L255.9 510.3 L257.3 510.5 L258.6 510.8 L260.0 511.1 L261.4 511.3 L262.7 511.6 L264.1 511.8 L265.5 512.1 L266.9 512.3 L268.2 512.6 L269.6 512.8 L271.0 513.1 L272.3 513.3 L273.7 513.5 L275.1 513.8 L276.4 514.0 L277.8 514.2 L279.2 514.4 L280.5 514.7 L281.9 514.9 L283.3 515.1 L284.6 515.3 L286.0 515.5 L287.4 515.7 L288.7 515.9 L290.1 516.2 L291.5 516.4 L292.8 516.6 L294.2 516.8 L295.6 517.0 L296.9 517.2 L298.3 517.4 L299.7 517.6 L301.0 517.8 L302.4 518.0 L303.8 518.2 L305.1 518.4 L306.5 518.6 L307.9 518.8 L309.2 519.0 L310.6 519.2 L312.0 519.4 L313.3 519.6 L314.7 519.8 L316.1 520.0 L317.4 520.2 L318.8 520.4" stroke="#EDB120"/>
<path d="M46.7 393.2 L48.1 392.2 L49.5 391.4 L50.8 390.6 L52.2 390.0 L53.6 389.4 L55.0 389.1 L56.3 388.8 L57.7 388.7 L59.1 388.7 L60.4 388.8 L61.8 389.1 L63.2 389.5 L64.5 390.1 L65.9 390.8 L67.3 391.6 L68.6 392.5 L70.0 393.6 L71.4 394.7 L72.7 395.9 L74.1 397.3 L75.5 398.6 L76.8 400.1 L78.2 401.6 L79.6 403.2 L80.9 404.8 L82.3 406.5 L83.7 408.2 L85.0 409.9 L86.4 411.7 L87.8 413.4 L89.1 415.2 L90.5 417.0 L91.9 418.8 L93.2 420.5 L94.6 422.3 L96.0 424.0 L97.3 425.8 L98.7 427.5 L100.1 429.2 L101.4 430.9 L102.8 432.5 L104.2 434.2 L105.5 435.8 L106.9 437.4 L108.3 438.9 L109.6 440.5 L111.0 442.0 L112.4 443.5 L113.7 444.9 L115.1 446.4 L116.5 447.8 L117.8 449.1 L119.2 450.5 L120.6 451.8 L121.9 453.1 L123.3 454.4 L124.7 455.6 L126.0 456.8 L127.4 458.0 L128.8 459.2 L130.1 460.3 L131.5 461.5 L132.9 462.6 L134.2 463.6 L135.6 464.7 L137.0 465.7 L138.3 466.7 L139.7 467.7 L141.1 468.7 L142.4 469.6 L143.8 470.6 L145.2 471.5 L146.5 472.4 L147.9 473.2 L149.3 474.1 L150.6 474.9 L152.0 475.8 L153.4 476.6 L154.7 477.4 L156.1 478.1 L157.5 478.9 L158.8 479.6 L160.2 480.4 L161.6 481.1 L163.0 481.8 L164.3 482.5 L165.7 483.1 L167.1 483.8 L168.4 484.5 L169.8 485.1 L171.2 485.7 L172.5 486.3 L173.9 486.9 L175.3 487.5 L176.6 488.1 L178.0 488.7 L179.4 489.3 L180.7 489.8 L182.1 490.4 L183.5 490.9 L184.8 491.4 L186.2 491.9 L187.6 492.4 L188.9 492.9 L190.3 493.4 L191.7 493.9 L193.0 494.4 L194.4 494.9 L195.8 495.3 L197.1 495.8 L198.5 496.2 L199.9 496.7 L201.2 497.1 L202.6 497.5 L204.0 497.9 L205.3 498.4 L206.7 498.8 L208.1 499.2 L209.4 499.6 L210.8 500.0 L212.2 500.3 L213.5 500.7 L214.9 501.1 L216.3 501.5 L217.6 501.8 L219.0 502.2 L220.4 502.5 L221.7 502.9 L223.1 503.2 L224.5 503.6 L225.8 503.9 L227.2 504.2 L228.6 504.6 L229.9 504.9 L231.3 505.2 L232.7 505.5 L234.0 505.8 L235.4 506.1 L236.8 506.4 L238.1 506.7 L239.5 507.0 L240.9 507.3 L242.2 507.6 L243.6 507.9 L245.0 508.2 L246.3 508.5 L247.7 508.7 L249.1 509.0 L250.4 509.3 L251.8 509.6 L253.2 509.8 L254.5 510.1 L255.9 510.3 L257.3 510.6 L258.6 510.9 L260.0 511.1 L261.4 511.4 L262.7 511.6 L264.1 511.8 L265.5 512.1 L266.9 512.3 L268.2 512.6 L269.6 512.8 L271.0 513.0 L272.3 513.3 L273.7 513.5 L275.1 513.7 L276.4 513.9 L277.8 514.2 L279.2 514.4 L280.5 514.6 L281.9 514.8 L283.3 515.0 L284.6 515.2 L286.0 515.5 L287.4 515.7 L288.7 515.9 L290.1 516.1 L291.5 516.3 L292.8 516.5 L294.2 516.7 L295.6 516.9 L296.9 517.1 L298.3 517.3 L299.7 517.5 L301.0 517.7 L302.4 517.9 L303.8 518.1 L305.1 518.3 L306.5 518.5 L307.9 518.7 L309.2 518.9 L310.6 519.2 L312.0 519.4 L313.3 519.6 L314.7 519.8 L316.1 520.0 L317.4 520.2 L318.8 520.4" stroke="#7E2F8E"/>
<path d="M46.7 388.8 L48.1 388.9 L49.5 389.2 L50.8 389.6 L52.2 390.1 L53.6 390.8 L55.0 391.6 L56.3 392.4 L57.7 393.4 L59.1 394.5 L60.4 395.7 L61.8 397.0 L63.2 398.3 L64.5 399.7 L65.9 401.2 L67.3 402.7 L68.6 404.3 L70.0 405.9 L71.4 407.5 L72.7 409.2 L74.1 410.9 L75.5 412.6 L76.8 414.3 L78.2 416.0 L79.6 417.7 L80.9 419.4 L82.3 421.1 L83.7 422.8 L85.0 424.5 L86.4 426.2 L87.8 427.9 L89.1 429.5 L90.5 431.1 L91.9 432.7 L93.2 434.3 L94.6 435.9 L96.0 437.4 L97.3 438.9 L98.7 440.4 L100.1 441.8 L101.4 443.3 L102.8 444.7 L104.2 446.1 L105.5 447.4 L106.9 448.7 L108.3 450.0 L109.6 451.3 L111.0 452.6 L112.4 453.8 L113.7 455.0 L115.1 456.2 L116.5 457.3 L117.8 458.5 L119.2 459.6 L120.6 460.7 L121.9 461.7 L123.3 462.8 L124.7 463.8 L126.0 464.8 L127.4 465.8 L128.8 466.7 L130.1 467.7 L131.5 468.6 L132.9 469.5 L134.2 470.4 L135.6 471.3 L137.0 472.1 L138.3 472.9 L139.7 473.8 L141.1 474.6 L142.4 475.4 L143.8 476.1 L145.2 476.9 L146.5 477.6 L147.9 478.4 L149.3 479.1 L150.6 479.8 L152.0 480.5 L153.4 481.1 L154.7 481.8 L156.1 482.5 L157.5 483.1 L158.8 483.7 L160.2 484.3 L161.6 484.9 L163.0 485.5 L164.3 486.1 L165.7 486.7 L167.1 487.3 L168.4 487.8 L169.8 488.4 L171.2 488.9 L172.5 489.4 L173.9 490.0 L175.3 490.5 L176.6 491.0 L178.0 491.5 L179.4 492.0 L180.7 492.4 L182.1 492.9 L183.5 493.4 L184.8 493.8 L186.2 494.3 L187.6 494.7 L188.9 495.2 L190.3 495.6 L191.7 496.0 L193.0 496.4 L194.4 496.8 L195.8 497.2 L197.1 497.6 L198.5 498.0 L199.9 498.4 L201.2 498.8 L202.6 499.2 L204.0 499.6 L205.3 499.9 L206.7 500.3 L208.1 500.6 L209.4 501.0 L210.8 501.3 L212.2 501.7 L213.5 502.0 L214.9 502.4 L216.3 502.7 L217.6 503.0 L219.0 503.3 L220.4 503.7 L221.7 504.0 L223.1 504.3 L224.5 504.6 L225.8 504.9 L227.2 505.2 L228.6 505.5 L229.9 505.8 L231.3 506.1 L232.7 506.4 L234.0 506.6 L235.4 506.9 L236.8 507.2 L238.1 507.5 L239.5 507.8 L240.9 508.0 L242.2 508.3 L243.6 508.6 L245.0 508.8 L246.3 509.1 L247.7 509.3 L249.1 509.6 L250.4 509.8 L251.8 510.1 L253.2 510.3 L254.5 510.6 L255.9 510.8 L257.3 511.1 L258.6 511.3 L260.0 511.5 L261.4 511.8 L262.7 512.0 L264.1 512.2 L265.5 512.5 L266.9 512.7 L268.2 512.9 L269.6 513.1 L271.0 513.4 L272.3 513.6 L273.7 513.8 L275.1 514.0 L276.4 514.2 L277.8 514.4 L279.2 514.6 L280.5 514.9 L281.9 515.1 L283.3 515.3 L284.6 515.5 L286.0 515.7 L287.4 515.9 L288.7 516.1 L290.1 516.3 L291.5 516.5 L292.8 516.7 L294.2 516.9 L295.6 517.1 L296.9 517.3 L298.3 517.5 L299.7 517.7 L301.0 517.9 L302.4 518.1 L303.8 518.3 L305.1 518.5 L306.5 518.7 L307.9 518.9 L309.2 519.1 L310.6 519.3 L312.0 519.5 L313.3 519.7 L314.7 519.9 L316.1 520.1 L317.4 520.3 L318.8 520.5" stroke="#77AC30"/>
<path d="M46.7 418.2 L48.1 420.5 L49.5 422.8 L50.8 425.0 L52.2 427.1 L53.6 429.2 L55.0 431.2 L56.3 433.1 L57.7 435.0 L59.1 436.8 L60.4 438.5 L61.8 440.3 L63.2 441.9 L64.5 443.5 L65.9 445.1 L67.3 446.6 L68.6 448.1 L70.0 449.6 L71.4 451.0 L72.7 452.3 L74.1 453.6 L75.5 454.9 L76.8 456.2 L78.2 457.4 L79.6 458.6 L80.9 459.8 L82.3 460.9 L83.7 462.0 L85.0 463.1 L86.4 464.1 L87.8 465.1 L89.1 466.1 L90.5 467.1 L91.9 468.1 L93.2 469.0 L94.6 469.9 L96.0 470.8 L97.3 471.7 L98.7 472.5 L100.1 473.3 L101.4 474.2 L102.8 475.0 L104.2 475.7 L105.5 476.5 L106.9 477.2 L108.3 478.0 L109.6 478.7 L111.0 479.4 L112.4 480.1 L113.7 480.8 L115.1 481.4 L116.5 482.1 L117.8 482.7 L119.2 483.3 L120.6 483.9 L121.9 484.6 L123.3 485.1 L124.7 485.7 L126.0 486.3 L127.4 486.9 L128.8 487.4 L130.1 487.9 L131.5 488.5 L132.9 489.0 L134.2 489.5 L135.6 490.0 L137.0 490.5 L138.3 491.0 L139.7 491.5 L141.1 492.0 L142.4 492.4 L143.8 492.9 L145.2 493.3 L146.5 493.8 L147.9 494.2 L149.3 494.7 L150.6 495.1 L152.0 495.5 L153.4 495.9 L154.7 496.3 L156.1 496.7 L157.5 497.1 L158.8 497.5 L160.2 497.9 L161.6 498.3 L163.0 498.6 L164.3 499.0 L165.7 499.4 L167.1 499.7 L168.4 500.1 L169.8 500.4 L171.2 500.8 L172.5 501.1 L173.9 501.4 L175.3 501.8 L176.6 502.1 L178.0 502.4 L179.4 502.7 L180.7 503.0 L182.1 503.4 L183.5 503.7 L184.8 504.0 L186.2 504.3 L187.6 504.5 L188.9 504.8 L190.3 505.1 L191.7 505.4 L193.0 505.7 L194.4 506.0 L195.8 506.2 L197.1 506.5 L198.5 506.8 L199.9 507.0 L201.2 507.3 L202.6 507.6 L204.0 507.8 L205.3 508.1 L206.7 508.3 L208.1 508.6 L209.4 508.8 L210.8 509.0 L212.2 509.3 L213.5 509.5 L214.9 509.7 L216.3 510.0 L217.6 510.2 L219.0 510.4 L220.4 510.7 L221.7 510.9 L223.1 511.1 L224.5 511.3 L225.8 511.5 L227.2 511.7 L228.6 511.9 L229.9 512.2 L231.3 512.4 L232.7 512.6 L234.0 512.8 L235.4 513.0 L236.8 513.2 L238.1 513.4 L239.5 513.5 L240.9 513.7 L242.2 513.9 L243.6 514.1 L245.0 514.3 L246.3 514.5 L247.7 514.7 L249.1 514.8 L250.4 515.0 L251.8 515.2 L253.2 515.4 L254.5 515.6 L255.9 515.7 L257.3 515.9 L258.6 516.1 L260.0 516.2 L261.4 516.4 L262.7 516.6 L264.1 516.7 L265.5 516.9 L266.9 517.0 L268.2 517.2 L269.6 517.4 L271.0 517.5 L272.3 517.7 L273.7 517.8 L275.1 518.0 L276.4 518.1 L277.8 518.2 L279.2 518.4 L280.5 518.5 L281.9 518.7 L283.3 518.8 L284.6 518.9 L286.0 519.1 L287.4 519.2 L288.7 519.4 L290.1 519.5 L291.5 519.6 L292.8 519.7 L294.2 519.9 L295.6 520.0 L296.9 520.1 L298.3 520.3 L299.7 520.4 L301.0 520.5 L302.4 520.6 L303.8 520.7 L305.1 520.9 L306.5 521.0 L307.9 521.1 L309.2 521.2 L310.6 521.3 L312.0 521.4 L313.3 521.6 L314.7 521.7 L316.1 521.8 L317.4 521.9 L318.8 522.0" stroke="#4DBEEE"/>
</g>
<g stroke="#626262" stroke-width="1.1" fill="none">
<rect x="43.6" y="319.9" width="275.1" height="230"/>
<path d="M43.6 549.9 v-2.7 M43.6 319.9 v2.7 M98.62 549.9 v-2.7 M98.62 319.9 v2.7 M153.64 549.9 v-2.7 M153.64 319.9 v2.7 M208.66 549.9 v-2.7 M208.66 319.9 v2.7 M263.68 549.9 v-2.7 M263.68 319.9 v2.7 M318.7 549.9 v-2.7 M318.7 319.9 v2.7 M43.6 549.9 h2.7 M318.7 549.9 h-2.7 M43.6 517.04 h2.7 M318.7 517.04 h-2.7 M43.6 484.19 h2.7 M318.7 484.19 h-2.7 M43.6 451.33 h2.7 M318.7 451.33 h-2.7 M43.6 418.47 h2.7 M318.7 418.47 h-2.7 M43.6 385.61 h2.7 M318.7 385.61 h-2.7 M43.6 352.76 h2.7 M318.7 352.76 h-2.7 M43.6 319.9 h2.7 M318.7 319.9 h-2.7"/>
</g>
<g class="ticks" font-family="'Liberation Sans', Arial, Helvetica, sans-serif" font-size="13.6" fill="#141414" stroke="#141414" stroke-width="0.3" letter-spacing="0.25">
<text x="43.6" y="565.9" text-anchor="middle">0</text>
<text x="98.62" y="565.9" text-anchor="middle">0.2</text>
<text x="153.64" y="565.9" text-anchor="middle">0.4</text>
<text x="208.66" y="565.9" text-anchor="middle">0.6</text>
<text x="263.68" y="565.9" text-anchor="middle">0.8</text>
<text x="318.7" y="565.9" text-anchor="middle">1</text>
<text x="40.9" y="555.2" text-anchor="end">0</text>
<text x="40.9" y="522.34" text-anchor="end">0.2</text>
<text x="40.9" y="489.49" text-anchor="end">0.4</text>
<text x="40.9" y="456.63" text-anchor="end">0.6</text>
<text x="40.9" y="423.77" text-anchor="end">0.8</text>
<text x="40.9" y="390.91" text-anchor="end">1</text>
<text x="40.9" y="358.06" text-anchor="end">1.2</text>
<text x="40.9" y="325.2" text-anchor="end">1.4</text>
</g>
<text class="ylabel" transform="translate(13.2 435.2) rotate(-90)" text-anchor="middle" font-family="'Liberation Sans', Arial, Helvetica, sans-serif" font-size="16.2" fill="#262626">G</text>
<text class="xlabel" x="173.25" y="584.9" font-family="'Liberation Serif', 'Times New Roman', serif" font-size="15.8" fill="#3a3a3a"><tspan font-style="italic">σ</tspan><tspan dy="-6.2" dx="0.6" font-size="11.4">2</tspan></text>
<text class="caption" x="168.8" y="608.5" text-anchor="middle" font-family="'Liberation Serif', 'Times New Roman', serif" font-size="16" fill="#1a1a1a">(c)</text>
<g class="legend" font-family="'Liberation Serif', 'Times New Roman', serif" font-size="13.4" fill="#1f1f1f">
<line x1="228.7" y1="334" x2="259.4" y2="334" stroke="#0072BD" stroke-width="2.45"/>
<text y="338.2"><tspan x="262.8" font-style="italic">α</tspan><tspan x="274" dy="1.3" textLength="10.9" lengthAdjust="spacingAndGlyphs">=</tspan><tspan x="287.9" dy="-1.3" letter-spacing="0.45">0.1</tspan></text>
<line x1="228.7" y1="346.84" x2="259.4" y2="346.84" stroke="#D95319" stroke-width="2.45"/>
<text y="351.04"><tspan x="262.8" font-style="italic">α</tspan><tspan x="274" dy="1.3" textLength="10.9" lengthAdjust="spacingAndGlyphs">=</tspan><tspan x="287.9" dy="-1.3" letter-spacing="0.45">0.2</tspan></text>
<line x1="228.7" y1="359.68" x2="259.4" y2="359.68" stroke="#EDB120" stroke-width="2.45"/>
<text y="363.88"><tspan x="262.8" font-style="italic">α</tspan><tspan x="274" dy="1.3" textLength="10.9" lengthAdjust="spacingAndGlyphs">=</tspan><tspan x="287.9" dy="-1.3" letter-spacing="0.45">0.3</tspan></text>
<line x1="228.7" y1="372.52" x2="259.4" y2="372.52" stroke="#7E2F8E" stroke-width="2.45"/>
<text y="376.72"><tspan x="262.8" font-style="italic">α</tspan><tspan x="274" dy="1.3" textLength="10.9" lengthAdjust="spacingAndGlyphs">=</tspan><tspan x="287.9" dy="-1.3" letter-spacing="0.45">0.4</tspan></text>
<line x1="228.7" y1="385.36" x2="259.4" y2="385.36" stroke="#77AC30" stroke-width="2.45"/>
<text y="389.56"><tspan x="262.8" font-style="italic">α</tspan><tspan x="274" dy="1.3" textLength="10.9" lengthAdjust="spacingAndGlyphs">=</tspan><tspan x="287.9" dy="-1.3" letter-spacing="0.45">0.5</tspan></text>
<line x1="228.7" y1="398.2" x2="259.4" y2="398.2" stroke="#4DBEEE" stroke-width="2.45"/>
<text y="402.4"><tspan x="262.8" font-style="italic">α</tspan><tspan x="274" dy="1.3" textLength="10.9" lengthAdjust="spacingAndGlyphs">=</tspan><tspan x="287.9" dy="-1.3" letter-spacing="0.45">1</tspan></text>
</g>
</g>
<g class="panel" id="panel-d">
<g clip-path="url(#clip-d)" fill="none" stroke-width="2.45" stroke-linejoin="round" stroke-linecap="butt">
<path d="M410.8 407.9 L412.2 408.3 L413.6 408.8 L414.9 409.3 L416.3 409.9 L417.7 410.6 L419.1 411.3 L420.4 412.1 L421.8 412.9 L423.2 413.8 L424.5 414.7 L425.9 415.7 L427.3 416.7 L428.6 417.7 L430.0 418.8 L431.4 419.9 L432.7 421.0 L434.1 422.2 L435.5 423.3 L436.8 424.5 L438.2 425.7 L439.6 426.9 L440.9 428.1 L442.3 429.3 L443.7 430.5 L445.0 431.8 L446.4 433.0 L447.8 434.2 L449.1 435.5 L450.5 436.7 L451.9 437.9 L453.2 439.1 L454.6 440.3 L456.0 441.5 L457.3 442.7 L458.7 443.9 L460.1 445.1 L461.4 446.2 L462.8 447.4 L464.2 448.5 L465.5 449.6 L466.9 450.7 L468.3 451.8 L469.6 452.9 L471.0 454.0 L472.4 455.0 L473.7 456.1 L475.1 457.1 L476.5 458.1 L477.8 459.1 L479.2 460.1 L480.6 461.0 L481.9 462.0 L483.3 462.9 L484.7 463.9 L486.0 464.8 L487.4 465.7 L488.8 466.5 L490.1 467.4 L491.5 468.3 L492.9 469.1 L494.2 469.9 L495.6 470.7 L497.0 471.5 L498.3 472.3 L499.7 473.1 L501.1 473.9 L502.4 474.6 L503.8 475.4 L505.2 476.1 L506.5 476.8 L507.9 477.5 L509.3 478.2 L510.6 478.9 L512.0 479.6 L513.4 480.2 L514.7 480.9 L516.1 481.5 L517.5 482.1 L518.8 482.7 L520.2 483.4 L521.6 484.0 L522.9 484.5 L524.3 485.1 L525.7 485.7 L527.1 486.3 L528.4 486.8 L529.8 487.4 L531.2 487.9 L532.5 488.4 L533.9 488.9 L535.3 489.5 L536.6 490.0 L538.0 490.5 L539.4 491.0 L540.7 491.4 L542.1 491.9 L543.5 492.4 L544.8 492.8 L546.2 493.3 L547.6 493.7 L548.9 494.2 L550.3 494.6 L551.7 495.1 L553.0 495.5 L554.4 495.9 L555.8 496.3 L557.1 496.7 L558.5 497.1 L559.9 497.5 L561.2 497.9 L562.6 498.3 L564.0 498.7 L565.3 499.0 L566.7 499.4 L568.1 499.8 L569.4 500.1 L570.8 500.5 L572.2 500.8 L573.5 501.2 L574.9 501.5 L576.3 501.8 L577.6 502.2 L579.0 502.5 L580.4 502.8 L581.7 503.1 L583.1 503.4 L584.5 503.7 L585.8 504.0 L587.2 504.3 L588.6 504.6 L589.9 504.9 L591.3 505.2 L592.7 505.5 L594.0 505.8 L595.4 506.1 L596.8 506.4 L598.1 506.6 L599.5 506.9 L600.9 507.2 L602.2 507.4 L603.6 507.7 L605.0 507.9 L606.3 508.2 L607.7 508.4 L609.1 508.7 L610.4 508.9 L611.8 509.2 L613.2 509.4 L614.5 509.6 L615.9 509.9 L617.3 510.1 L618.6 510.3 L620.0 510.6 L621.4 510.8 L622.7 511.0 L624.1 511.2 L625.5 511.4 L626.8 511.6 L628.2 511.9 L629.6 512.1 L631.0 512.3 L632.3 512.5 L633.7 512.7 L635.1 512.9 L636.4 513.1 L637.8 513.3 L639.2 513.4 L640.5 513.6 L641.9 513.8 L643.3 514.0 L644.6 514.2 L646.0 514.4 L647.4 514.5 L648.7 514.7 L650.1 514.9 L651.5 515.1 L652.8 515.2 L654.2 515.4 L655.6 515.6 L656.9 515.7 L658.3 515.9 L659.7 516.0 L661.0 516.2 L662.4 516.4 L663.8 516.5 L665.1 516.7 L666.5 516.8 L667.9 517.0 L669.2 517.1 L670.6 517.2 L672.0 517.4 L673.3 517.5 L674.7 517.6 L676.1 517.8 L677.4 517.9 L678.8 518.0 L680.2 518.2 L681.5 518.3 L682.9 518.4" stroke="#0072BD"/>
<path d="M410.8 401.4 L412.2 401.4 L413.6 401.6 L414.9 401.8 L416.3 402.1 L417.7 402.4 L419.1 402.9 L420.4 403.4 L421.8 404.0 L423.2 404.7 L424.5 405.4 L425.9 406.2 L427.3 407.1 L428.6 408.0 L430.0 409.0 L431.4 410.0 L432.7 411.1 L434.1 412.2 L435.5 413.3 L436.8 414.5 L438.2 415.7 L439.6 416.9 L440.9 418.2 L442.3 419.5 L443.7 420.7 L445.0 422.1 L446.4 423.4 L447.8 424.7 L449.1 426.1 L450.5 427.4 L451.9 428.8 L453.2 430.1 L454.6 431.4 L456.0 432.8 L457.3 434.1 L458.7 435.5 L460.1 436.8 L461.4 438.1 L462.8 439.4 L464.2 440.7 L465.5 442.0 L466.9 443.2 L468.3 444.5 L469.6 445.7 L471.0 447.0 L472.4 448.2 L473.7 449.4 L475.1 450.6 L476.5 451.7 L477.8 452.9 L479.2 454.0 L480.6 455.1 L481.9 456.2 L483.3 457.3 L484.7 458.4 L486.0 459.4 L487.4 460.4 L488.8 461.5 L490.1 462.5 L491.5 463.4 L492.9 464.4 L494.2 465.4 L495.6 466.3 L497.0 467.2 L498.3 468.1 L499.7 469.0 L501.1 469.9 L502.4 470.8 L503.8 471.6 L505.2 472.4 L506.5 473.3 L507.9 474.1 L509.3 474.9 L510.6 475.6 L512.0 476.4 L513.4 477.2 L514.7 477.9 L516.1 478.6 L517.5 479.3 L518.8 480.0 L520.2 480.7 L521.6 481.4 L522.9 482.1 L524.3 482.7 L525.7 483.4 L527.1 484.0 L528.4 484.6 L529.8 485.3 L531.2 485.9 L532.5 486.5 L533.9 487.0 L535.3 487.6 L536.6 488.2 L538.0 488.7 L539.4 489.3 L540.7 489.8 L542.1 490.4 L543.5 490.9 L544.8 491.4 L546.2 491.9 L547.6 492.4 L548.9 492.9 L550.3 493.4 L551.7 493.9 L553.0 494.3 L554.4 494.8 L555.8 495.3 L557.1 495.7 L558.5 496.2 L559.9 496.6 L561.2 497.0 L562.6 497.4 L564.0 497.9 L565.3 498.3 L566.7 498.7 L568.1 499.1 L569.4 499.5 L570.8 499.9 L572.2 500.2 L573.5 500.6 L574.9 501.0 L576.3 501.3 L577.6 501.7 L579.0 502.1 L580.4 502.4 L581.7 502.8 L583.1 503.1 L584.5 503.4 L585.8 503.8 L587.2 504.1 L588.6 504.4 L589.9 504.7 L591.3 505.1 L592.7 505.4 L594.0 505.7 L595.4 506.0 L596.8 506.3 L598.1 506.6 L599.5 506.9 L600.9 507.1 L602.2 507.4 L603.6 507.7 L605.0 508.0 L606.3 508.2 L607.7 508.5 L609.1 508.8 L610.4 509.0 L611.8 509.3 L613.2 509.6 L614.5 509.8 L615.9 510.0 L617.3 510.3 L618.6 510.5 L620.0 510.8 L621.4 511.0 L622.7 511.2 L624.1 511.5 L625.5 511.7 L626.8 511.9 L628.2 512.1 L629.6 512.4 L631.0 512.6 L632.3 512.8 L633.7 513.0 L635.1 513.2 L636.4 513.4 L637.8 513.6 L639.2 513.8 L640.5 514.0 L641.9 514.2 L643.3 514.4 L644.6 514.6 L646.0 514.7 L647.4 514.9 L648.7 515.1 L650.1 515.3 L651.5 515.5 L652.8 515.6 L654.2 515.8 L655.6 516.0 L656.9 516.1 L658.3 516.3 L659.7 516.4 L661.0 516.6 L662.4 516.7 L663.8 516.9 L665.1 517.0 L666.5 517.2 L667.9 517.3 L669.2 517.5 L670.6 517.6 L672.0 517.7 L673.3 517.8 L674.7 518.0 L676.1 518.1 L677.4 518.2 L678.8 518.3 L680.2 518.4 L681.5 518.5 L682.9 518.6" stroke="#D95319"/>
<path d="M410.8 397.6 L412.2 396.9 L413.6 396.3 L414.9 395.8 L416.3 395.4 L417.7 395.2 L419.1 395.0 L420.4 395.0 L421.8 395.1 L423.2 395.3 L424.5 395.5 L425.9 395.9 L427.3 396.4 L428.6 397.0 L430.0 397.7 L431.4 398.5 L432.7 399.4 L434.1 400.4 L435.5 401.4 L436.8 402.5 L438.2 403.7 L439.6 404.9 L440.9 406.2 L442.3 407.5 L443.7 408.9 L445.0 410.3 L446.4 411.7 L447.8 413.2 L449.1 414.7 L450.5 416.2 L451.9 417.7 L453.2 419.3 L454.6 420.8 L456.0 422.4 L457.3 423.9 L458.7 425.5 L460.1 427.0 L461.4 428.6 L462.8 430.1 L464.2 431.6 L465.5 433.1 L466.9 434.6 L468.3 436.1 L469.6 437.6 L471.0 439.0 L472.4 440.5 L473.7 441.9 L475.1 443.3 L476.5 444.7 L477.8 446.0 L479.2 447.4 L480.6 448.7 L481.9 450.0 L483.3 451.2 L484.7 452.5 L486.0 453.7 L487.4 454.9 L488.8 456.1 L490.1 457.3 L491.5 458.4 L492.9 459.6 L494.2 460.7 L495.6 461.8 L497.0 462.8 L498.3 463.9 L499.7 464.9 L501.1 465.9 L502.4 466.9 L503.8 467.9 L505.2 468.8 L506.5 469.7 L507.9 470.7 L509.3 471.6 L510.6 472.5 L512.0 473.3 L513.4 474.2 L514.7 475.0 L516.1 475.8 L517.5 476.6 L518.8 477.4 L520.2 478.2 L521.6 479.0 L522.9 479.7 L524.3 480.4 L525.7 481.2 L527.1 481.9 L528.4 482.6 L529.8 483.3 L531.2 483.9 L532.5 484.6 L533.9 485.2 L535.3 485.9 L536.6 486.5 L538.0 487.1 L539.4 487.7 L540.7 488.3 L542.1 488.9 L543.5 489.5 L544.8 490.0 L546.2 490.6 L547.6 491.1 L548.9 491.7 L550.3 492.2 L551.7 492.7 L553.0 493.2 L554.4 493.7 L555.8 494.2 L557.1 494.7 L558.5 495.2 L559.9 495.7 L561.2 496.1 L562.6 496.6 L564.0 497.0 L565.3 497.5 L566.7 497.9 L568.1 498.3 L569.4 498.8 L570.8 499.2 L572.2 499.6 L573.5 500.0 L574.9 500.4 L576.3 500.8 L577.6 501.2 L579.0 501.5 L580.4 501.9 L581.7 502.3 L583.1 502.6 L584.5 503.0 L585.8 503.4 L587.2 503.7 L588.6 504.1 L589.9 504.4 L591.3 504.7 L592.7 505.1 L594.0 505.4 L595.4 505.7 L596.8 506.0 L598.1 506.3 L599.5 506.6 L600.9 506.9 L602.2 507.2 L603.6 507.5 L605.0 507.8 L606.3 508.1 L607.7 508.4 L609.1 508.7 L610.4 509.0 L611.8 509.2 L613.2 509.5 L614.5 509.8 L615.9 510.0 L617.3 510.3 L618.6 510.6 L620.0 510.8 L621.4 511.1 L622.7 511.3 L624.1 511.6 L625.5 511.8 L626.8 512.0 L628.2 512.3 L629.6 512.5 L631.0 512.7 L632.3 512.9 L633.7 513.2 L635.1 513.4 L636.4 513.6 L637.8 513.8 L639.2 514.0 L640.5 514.2 L641.9 514.4 L643.3 514.6 L644.6 514.7 L646.0 514.9 L647.4 515.1 L648.7 515.3 L650.1 515.5 L651.5 515.6 L652.8 515.8 L654.2 516.0 L655.6 516.1 L656.9 516.3 L658.3 516.5 L659.7 516.6 L661.0 516.8 L662.4 516.9 L663.8 517.1 L665.1 517.2 L666.5 517.4 L667.9 517.5 L669.2 517.7 L670.6 517.8 L672.0 517.9 L673.3 518.1 L674.7 518.2 L676.1 518.3 L677.4 518.5 L678.8 518.6 L680.2 518.7 L681.5 518.9 L682.9 519.0" stroke="#EDB120"/>
<path d="M410.8 396.4 L412.2 395.0 L413.6 393.6 L414.9 392.4 L416.3 391.3 L417.7 390.3 L419.1 389.4 L420.4 388.6 L421.8 388.0 L423.2 387.5 L424.5 387.2 L425.9 386.9 L427.3 386.8 L428.6 386.8 L430.0 387.0 L431.4 387.3 L432.7 387.7 L434.1 388.2 L435.5 388.9 L436.8 389.6 L438.2 390.5 L439.6 391.5 L440.9 392.6 L442.3 393.8 L443.7 395.1 L445.0 396.5 L446.4 397.9 L447.8 399.4 L449.1 401.0 L450.5 402.6 L451.9 404.3 L453.2 406.0 L454.6 407.7 L456.0 409.4 L457.3 411.2 L458.7 413.0 L460.1 414.8 L461.4 416.6 L462.8 418.4 L464.2 420.2 L465.5 422.0 L466.9 423.8 L468.3 425.6 L469.6 427.3 L471.0 429.1 L472.4 430.8 L473.7 432.5 L475.1 434.2 L476.5 435.8 L477.8 437.5 L479.2 439.1 L480.6 440.7 L481.9 442.2 L483.3 443.7 L484.7 445.2 L486.0 446.7 L487.4 448.2 L488.8 449.6 L490.1 451.0 L491.5 452.4 L492.9 453.7 L494.2 455.0 L495.6 456.3 L497.0 457.6 L498.3 458.8 L499.7 460.0 L501.1 461.2 L502.4 462.4 L503.8 463.5 L505.2 464.6 L506.5 465.7 L507.9 466.8 L509.3 467.8 L510.6 468.9 L512.0 469.9 L513.4 470.8 L514.7 471.8 L516.1 472.8 L517.5 473.7 L518.8 474.6 L520.2 475.5 L521.6 476.4 L522.9 477.2 L524.3 478.0 L525.7 478.9 L527.1 479.7 L528.4 480.5 L529.8 481.2 L531.2 482.0 L532.5 482.7 L533.9 483.5 L535.3 484.2 L536.6 484.9 L538.0 485.6 L539.4 486.2 L540.7 486.9 L542.1 487.6 L543.5 488.2 L544.8 488.8 L546.2 489.4 L547.6 490.0 L548.9 490.6 L550.3 491.2 L551.7 491.8 L553.0 492.3 L554.4 492.9 L555.8 493.4 L557.1 494.0 L558.5 494.5 L559.9 495.0 L561.2 495.5 L562.6 496.0 L564.0 496.5 L565.3 497.0 L566.7 497.4 L568.1 497.9 L569.4 498.4 L570.8 498.8 L572.2 499.3 L573.5 499.7 L574.9 500.1 L576.3 500.5 L577.6 501.0 L579.0 501.4 L580.4 501.8 L581.7 502.2 L583.1 502.5 L584.5 502.9 L585.8 503.3 L587.2 503.7 L588.6 504.0 L589.9 504.4 L591.3 504.8 L592.7 505.1 L594.0 505.4 L595.4 505.8 L596.8 506.1 L598.1 506.4 L599.5 506.8 L600.9 507.1 L602.2 507.4 L603.6 507.7 L605.0 508.0 L606.3 508.3 L607.7 508.6 L609.1 508.9 L610.4 509.2 L611.8 509.5 L613.2 509.8 L614.5 510.0 L615.9 510.3 L617.3 510.6 L618.6 510.8 L620.0 511.1 L621.4 511.4 L622.7 511.6 L624.1 511.9 L625.5 512.1 L626.8 512.3 L628.2 512.6 L629.6 512.8 L631.0 513.1 L632.3 513.3 L633.7 513.5 L635.1 513.7 L636.4 514.0 L637.8 514.2 L639.2 514.4 L640.5 514.6 L641.9 514.8 L643.3 515.0 L644.6 515.2 L646.0 515.4 L647.4 515.6 L648.7 515.8 L650.1 516.0 L651.5 516.2 L652.8 516.4 L654.2 516.5 L655.6 516.7 L656.9 516.9 L658.3 517.1 L659.7 517.2 L661.0 517.4 L662.4 517.6 L663.8 517.7 L665.1 517.9 L666.5 518.0 L667.9 518.2 L669.2 518.3 L670.6 518.5 L672.0 518.6 L673.3 518.8 L674.7 518.9 L676.1 519.0 L677.4 519.2 L678.8 519.3 L680.2 519.4 L681.5 519.5 L682.9 519.6" stroke="#7E2F8E"/>
<path d="M410.8 399.4 L412.2 397.2 L413.6 395.1 L414.9 393.1 L416.3 391.1 L417.7 389.2 L419.1 387.4 L420.4 385.7 L421.8 384.1 L423.2 382.6 L424.5 381.2 L425.9 380.0 L427.3 378.9 L428.6 378.0 L430.0 377.2 L431.4 376.6 L432.7 376.2 L434.1 375.9 L435.5 375.8 L436.8 376.0 L438.2 376.3 L439.6 376.7 L440.9 377.4 L442.3 378.2 L443.7 379.2 L445.0 380.3 L446.4 381.6 L447.8 383.0 L449.1 384.5 L450.5 386.1 L451.9 387.9 L453.2 389.7 L454.6 391.6 L456.0 393.6 L457.3 395.6 L458.7 397.7 L460.1 399.8 L461.4 401.9 L462.8 404.1 L464.2 406.2 L465.5 408.4 L466.9 410.6 L468.3 412.8 L469.6 414.9 L471.0 417.0 L472.4 419.2 L473.7 421.3 L475.1 423.3 L476.5 425.4 L477.8 427.4 L479.2 429.3 L480.6 431.3 L481.9 433.2 L483.3 435.1 L484.7 436.9 L486.0 438.7 L487.4 440.4 L488.8 442.2 L490.1 443.8 L491.5 445.5 L492.9 447.1 L494.2 448.7 L495.6 450.2 L497.0 451.7 L498.3 453.2 L499.7 454.6 L501.1 456.0 L502.4 457.4 L503.8 458.8 L505.2 460.1 L506.5 461.3 L507.9 462.6 L509.3 463.8 L510.6 465.0 L512.0 466.2 L513.4 467.3 L514.7 468.4 L516.1 469.5 L517.5 470.6 L518.8 471.6 L520.2 472.6 L521.6 473.6 L522.9 474.6 L524.3 475.5 L525.7 476.4 L527.1 477.3 L528.4 478.2 L529.8 479.1 L531.2 479.9 L532.5 480.8 L533.9 481.6 L535.3 482.4 L536.6 483.2 L538.0 483.9 L539.4 484.7 L540.7 485.4 L542.1 486.1 L543.5 486.8 L544.8 487.5 L546.2 488.2 L547.6 488.8 L548.9 489.5 L550.3 490.1 L551.7 490.7 L553.0 491.3 L554.4 491.9 L555.8 492.5 L557.1 493.1 L558.5 493.7 L559.9 494.2 L561.2 494.8 L562.6 495.3 L564.0 495.8 L565.3 496.3 L566.7 496.8 L568.1 497.3 L569.4 497.8 L570.8 498.3 L572.2 498.8 L573.5 499.2 L574.9 499.7 L576.3 500.1 L577.6 500.6 L579.0 501.0 L580.4 501.4 L581.7 501.9 L583.1 502.3 L584.5 502.7 L585.8 503.1 L587.2 503.5 L588.6 503.8 L589.9 504.2 L591.3 504.6 L592.7 504.9 L594.0 505.3 L595.4 505.7 L596.8 506.0 L598.1 506.4 L599.5 506.7 L600.9 507.0 L602.2 507.4 L603.6 507.7 L605.0 508.0 L606.3 508.3 L607.7 508.6 L609.1 508.9 L610.4 509.2 L611.8 509.5 L613.2 509.8 L614.5 510.1 L615.9 510.4 L617.3 510.6 L618.6 510.9 L620.0 511.2 L621.4 511.5 L622.7 511.7 L624.1 512.0 L625.5 512.2 L626.8 512.5 L628.2 512.7 L629.6 513.0 L631.0 513.2 L632.3 513.4 L633.7 513.7 L635.1 513.9 L636.4 514.1 L637.8 514.4 L639.2 514.6 L640.5 514.8 L641.9 515.0 L643.3 515.2 L644.6 515.4 L646.0 515.6 L647.4 515.8 L648.7 516.0 L650.1 516.2 L651.5 516.4 L652.8 516.6 L654.2 516.8 L655.6 517.0 L656.9 517.2 L658.3 517.3 L659.7 517.5 L661.0 517.7 L662.4 517.9 L663.8 518.0 L665.1 518.2 L666.5 518.4 L667.9 518.5 L669.2 518.7 L670.6 518.8 L672.0 519.0 L673.3 519.1 L674.7 519.3 L676.1 519.4 L677.4 519.6 L678.8 519.7 L680.2 519.8 L681.5 520.0 L682.9 520.1" stroke="#77AC30"/>
<path d="M410.8 404.6 L412.2 401.8 L413.6 399.0 L414.9 396.3 L416.3 393.5 L417.7 390.7 L419.1 388.0 L420.4 385.4 L421.8 382.8 L423.2 380.2 L424.5 377.7 L425.9 375.3 L427.3 373.0 L428.6 370.8 L430.0 368.8 L431.4 366.9 L432.7 365.1 L434.1 363.6 L435.5 362.3 L436.8 361.2 L438.2 360.4 L439.6 359.8 L440.9 359.5 L442.3 359.5 L443.7 359.7 L445.0 360.2 L446.4 361.0 L447.8 362.0 L449.1 363.3 L450.5 364.8 L451.9 366.5 L453.2 368.4 L454.6 370.5 L456.0 372.7 L457.3 375.1 L458.7 377.6 L460.1 380.1 L461.4 382.8 L462.8 385.5 L464.2 388.2 L465.5 391.0 L466.9 393.7 L468.3 396.5 L469.6 399.3 L471.0 402.1 L472.4 404.8 L473.7 407.5 L475.1 410.1 L476.5 412.7 L477.8 415.3 L479.2 417.8 L480.6 420.3 L481.9 422.7 L483.3 425.1 L484.7 427.4 L486.0 429.6 L487.4 431.8 L488.8 434.0 L490.1 436.0 L491.5 438.1 L492.9 440.0 L494.2 441.9 L495.6 443.8 L497.0 445.6 L498.3 447.4 L499.7 449.1 L501.1 450.8 L502.4 452.4 L503.8 454.0 L505.2 455.5 L506.5 457.0 L507.9 458.4 L509.3 459.9 L510.6 461.2 L512.0 462.6 L513.4 463.9 L514.7 465.1 L516.1 466.4 L517.5 467.6 L518.8 468.7 L520.2 469.9 L521.6 471.0 L522.9 472.1 L524.3 473.1 L525.7 474.2 L527.1 475.2 L528.4 476.1 L529.8 477.1 L531.2 478.0 L532.5 478.9 L533.9 479.8 L535.3 480.7 L536.6 481.5 L538.0 482.4 L539.4 483.2 L540.7 483.9 L542.1 484.7 L543.5 485.5 L544.8 486.2 L546.2 486.9 L547.6 487.6 L548.9 488.3 L550.3 489.0 L551.7 489.6 L553.0 490.3 L554.4 490.9 L555.8 491.5 L557.1 492.1 L558.5 492.7 L559.9 493.3 L561.2 493.9 L562.6 494.4 L564.0 495.0 L565.3 495.5 L566.7 496.1 L568.1 496.6 L569.4 497.1 L570.8 497.6 L572.2 498.1 L573.5 498.5 L574.9 499.0 L576.3 499.5 L577.6 499.9 L579.0 500.4 L580.4 500.8 L581.7 501.2 L583.1 501.6 L584.5 502.0 L585.8 502.5 L587.2 502.9 L588.6 503.2 L589.9 503.6 L591.3 504.0 L592.7 504.4 L594.0 504.7 L595.4 505.1 L596.8 505.5 L598.1 505.8 L599.5 506.1 L600.9 506.5 L602.2 506.8 L603.6 507.1 L605.0 507.5 L606.3 507.8 L607.7 508.1 L609.1 508.4 L610.4 508.7 L611.8 509.0 L613.2 509.3 L614.5 509.6 L615.9 509.9 L617.3 510.1 L618.6 510.4 L620.0 510.7 L621.4 511.0 L622.7 511.2 L624.1 511.5 L625.5 511.7 L626.8 512.0 L628.2 512.3 L629.6 512.5 L631.0 512.8 L632.3 513.0 L633.7 513.2 L635.1 513.5 L636.4 513.7 L637.8 514.0 L639.2 514.2 L640.5 514.4 L641.9 514.7 L643.3 514.9 L644.6 515.1 L646.0 515.3 L647.4 515.6 L648.7 515.8 L650.1 516.0 L651.5 516.2 L652.8 516.4 L654.2 516.6 L655.6 516.8 L656.9 517.0 L658.3 517.3 L659.7 517.5 L661.0 517.7 L662.4 517.9 L663.8 518.1 L665.1 518.2 L666.5 518.4 L667.9 518.6 L669.2 518.8 L670.6 519.0 L672.0 519.2 L673.3 519.4 L674.7 519.6 L676.1 519.7 L677.4 519.9 L678.8 520.1 L680.2 520.3 L681.5 520.4 L682.9 520.6" stroke="#4DBEEE"/>
</g>
<g stroke="#626262" stroke-width="1.1" fill="none">
<rect x="407.9" y="319.9" width="275" height="230"/>
<path d="M407.9 549.9 v-2.7 M407.9 319.9 v2.7 M462.9 549.9 v-2.7 M462.9 319.9 v2.7 M517.9 549.9 v-2.7 M517.9 319.9 v2.7 M572.9 549.9 v-2.7 M572.9 319.9 v2.7 M627.9 549.9 v-2.7 M627.9 319.9 v2.7 M682.9 549.9 v-2.7 M682.9 319.9 v2.7 M407.9 549.9 h2.7 M682.9 549.9 h-2.7 M407.9 517.04 h2.7 M682.9 517.04 h-2.7 M407.9 484.19 h2.7 M682.9 484.19 h-2.7 M407.9 451.33 h2.7 M682.9 451.33 h-2.7 M407.9 418.47 h2.7 M682.9 418.47 h-2.7 M407.9 385.61 h2.7 M682.9 385.61 h-2.7 M407.9 352.76 h2.7 M682.9 352.76 h-2.7 M407.9 319.9 h2.7 M682.9 319.9 h-2.7"/>
</g>
<g class="ticks" font-family="'Liberation Sans', Arial, Helvetica, sans-serif" font-size="13.6" fill="#141414" stroke="#141414" stroke-width="0.3" letter-spacing="0.25">
<text x="407.9" y="565.9" text-anchor="middle">0</text>
<text x="462.9" y="565.9" text-anchor="middle">0.2</text>
<text x="517.9" y="565.9" text-anchor="middle">0.4</text>
<text x="572.9" y="565.9" text-anchor="middle">0.6</text>
<text x="627.9" y="565.9" text-anchor="middle">0.8</text>
<text x="682.9" y="565.9" text-anchor="middle">1</text>
<text x="405.2" y="555.2" text-anchor="end">0</text>
<text x="405.2" y="522.34" text-anchor="end">0.2</text>
<text x="405.2" y="489.49" text-anchor="end">0.4</text>
<text x="405.2" y="456.63" text-anchor="end">0.6</text>
<text x="405.2" y="423.77" text-anchor="end">0.8</text>
<text x="405.2" y="390.91" text-anchor="end">1</text>
<text x="405.2" y="358.06" text-anchor="end">1.2</text>
<text x="405.2" y="325.2" text-anchor="end">1.4</text>
</g>
<text class="ylabel" transform="translate(377.4 435.2) rotate(-90)" text-anchor="middle" font-family="'Liberation Sans', Arial, Helvetica, sans-serif" font-size="16.2" fill="#262626">G</text>
<text class="xlabel" x="537.5" y="584.9" font-family="'Liberation Serif', 'Times New Roman', serif" font-size="15.8" fill="#3a3a3a"><tspan font-style="italic">σ</tspan><tspan dy="-6.2" dx="0.6" font-size="11.4">2</tspan></text>
<text class="caption" x="533" y="608.5" text-anchor="middle" font-family="'Liberation Serif', 'Times New Roman', serif" font-size="16" fill="#1a1a1a">(d)</text>
<g class="legend" font-family="'Liberation Serif', 'Times New Roman', serif" font-size="13.4" fill="#1f1f1f">
<line x1="586" y1="335.3" x2="616.8" y2="335.3" stroke="#0072BD" stroke-width="2.45"/>
<text y="339.5"><tspan x="620.1" font-style="italic">τ</tspan><tspan x="630" dy="1.3" textLength="10.9" lengthAdjust="spacingAndGlyphs">=</tspan><tspan x="643.9" dy="-1.3" letter-spacing="0.45">0</tspan></text>
<line x1="586" y1="348.14" x2="616.8" y2="348.14" stroke="#D95319" stroke-width="2.45"/>
<text y="352.34"><tspan x="620.1" font-style="italic">τ</tspan><tspan x="630" dy="1.3" textLength="10.9" lengthAdjust="spacingAndGlyphs">=</tspan><tspan x="643.9" dy="-1.3" letter-spacing="0.45">0.02</tspan></text>
<line x1="586" y1="360.98" x2="616.8" y2="360.98" stroke="#EDB120" stroke-width="2.45"/>
<text y="365.18"><tspan x="620.1" font-style="italic">τ</tspan><tspan x="630" dy="1.3" textLength="10.9" lengthAdjust="spacingAndGlyphs">=</tspan><tspan x="643.9" dy="-1.3" letter-spacing="0.45">0.04</tspan></text>
<line x1="586" y1="373.82" x2="616.8" y2="373.82" stroke="#7E2F8E" stroke-width="2.45"/>
<text y="378.02"><tspan x="620.1" font-style="italic">τ</tspan><tspan x="630" dy="1.3" textLength="10.9" lengthAdjust="spacingAndGlyphs">=</tspan><tspan x="643.9" dy="-1.3" letter-spacing="0.45">0.06</tspan></text>
<line x1="586" y1="386.66" x2="616.8" y2="386.66" stroke="#77AC30" stroke-width="2.45"/>
<text y="390.86"><tspan x="620.1" font-style="italic">τ</tspan><tspan x="630" dy="1.3" textLength="10.9" lengthAdjust="spacingAndGlyphs">=</tspan><tspan x="643.9" dy="-1.3" letter-spacing="0.45">0.08</tspan></text>
<line x1="586" y1="399.5" x2="616.8" y2="399.5" stroke="#4DBEEE" stroke-width="2.45"/>
<text y="403.7"><tspan x="620.1" font-style="italic">τ</tspan><tspan x="630" dy="1.3" textLength="10.9" lengthAdjust="spacingAndGlyphs">=</tspan><tspan x="643.9" dy="-1.3" letter-spacing="0.45">0.10</tspan></text>
</g>
</g>
</svg>
</body>
</html>
